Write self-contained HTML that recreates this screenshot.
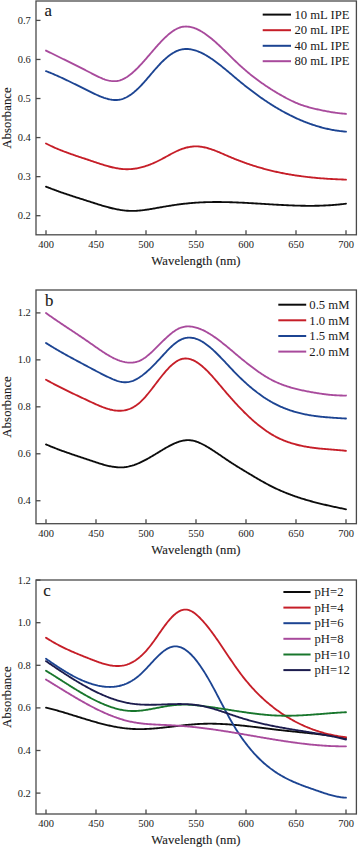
<!DOCTYPE html>
<html><head><meta charset="utf-8"><style>
html,body{margin:0;padding:0;background:#fff;}
svg{display:block;}
text{font-family:"Liberation Serif",serif;fill:#1a1a1a;stroke:#1a1a1a;stroke-width:0.12px;}
.tl{font-size:10.5px;stroke-width:0;}
.ax{font-size:12.6px;letter-spacing:0.12px;}
.lg{font-size:12.7px;stroke-width:0;}
.pl{font-size:16.8px;}
</style></head><body>
<svg width="358" height="848" viewBox="0 0 358 848">
<rect width="358" height="848" fill="#fff"/>
<path d="M46.0 186.62 L47.0 187.02 L48.0 187.42 L49.0 187.82 L50.0 188.21 L51.0 188.60 L52.0 188.99 L53.0 189.37 L54.0 189.74 L55.0 190.12 L56.0 190.48 L57.0 190.85 L58.0 191.21 L59.0 191.57 L60.0 191.92 L61.0 192.27 L62.0 192.62 L63.0 192.97 L64.0 193.31 L65.0 193.65 L66.0 193.99 L67.0 194.33 L68.0 194.66 L69.0 194.99 L70.0 195.32 L71.0 195.65 L72.0 195.98 L73.0 196.30 L74.0 196.62 L75.0 196.95 L76.0 197.27 L77.0 197.59 L78.0 197.91 L79.0 198.22 L80.0 198.54 L81.0 198.86 L82.0 199.18 L83.0 199.49 L84.0 199.81 L85.0 200.13 L86.0 200.45 L87.0 200.76 L88.0 201.08 L89.0 201.40 L90.0 201.72 L91.0 202.04 L92.0 202.36 L93.0 202.68 L94.0 203.00 L95.0 203.32 L96.0 203.64 L97.0 203.96 L98.0 204.27 L99.0 204.59 L100.0 204.90 L101.0 205.20 L102.0 205.51 L103.0 205.80 L104.0 206.10 L105.0 206.39 L106.0 206.67 L107.0 206.95 L108.0 207.23 L109.0 207.49 L110.0 207.75 L111.0 208.00 L112.0 208.25 L113.0 208.49 L114.0 208.71 L115.0 208.93 L116.0 209.14 L117.0 209.34 L118.0 209.53 L119.0 209.71 L120.0 209.88 L121.0 210.04 L122.0 210.19 L123.0 210.32 L124.0 210.44 L125.0 210.55 L126.0 210.65 L127.0 210.73 L128.0 210.79 L129.0 210.85 L130.0 210.88 L131.0 210.91 L132.0 210.91 L133.0 210.91 L134.0 210.89 L135.0 210.85 L136.0 210.81 L137.0 210.75 L138.0 210.68 L139.0 210.60 L140.0 210.51 L141.0 210.41 L142.0 210.30 L143.0 210.18 L144.0 210.05 L145.0 209.92 L146.0 209.78 L147.0 209.63 L148.0 209.48 L149.0 209.32 L150.0 209.16 L151.0 208.99 L152.0 208.82 L153.0 208.65 L154.0 208.47 L155.0 208.30 L156.0 208.12 L157.0 207.94 L158.0 207.76 L159.0 207.58 L160.0 207.40 L161.0 207.23 L162.0 207.05 L163.0 206.88 L164.0 206.71 L165.0 206.54 L166.0 206.37 L167.0 206.20 L168.0 206.04 L169.0 205.88 L170.0 205.72 L171.0 205.56 L172.0 205.41 L173.0 205.26 L174.0 205.11 L175.0 204.96 L176.0 204.82 L177.0 204.68 L178.0 204.54 L179.0 204.41 L180.0 204.28 L181.0 204.15 L182.0 204.03 L183.0 203.91 L184.0 203.79 L185.0 203.68 L186.0 203.57 L187.0 203.46 L188.0 203.36 L189.0 203.26 L190.0 203.17 L191.0 203.08 L192.0 202.99 L193.0 202.91 L194.0 202.83 L195.0 202.76 L196.0 202.69 L197.0 202.62 L198.0 202.56 L199.0 202.50 L200.0 202.45 L201.0 202.39 L202.0 202.35 L203.0 202.30 L204.0 202.26 L205.0 202.22 L206.0 202.19 L207.0 202.16 L208.0 202.13 L209.0 202.11 L210.0 202.09 L211.0 202.07 L212.0 202.05 L213.0 202.04 L214.0 202.03 L215.0 202.02 L216.0 202.02 L217.0 202.02 L218.0 202.02 L219.0 202.02 L220.0 202.03 L221.0 202.04 L222.0 202.05 L223.0 202.06 L224.0 202.08 L225.0 202.10 L226.0 202.12 L227.0 202.14 L228.0 202.16 L229.0 202.19 L230.0 202.22 L231.0 202.25 L232.0 202.28 L233.0 202.31 L234.0 202.35 L235.0 202.39 L236.0 202.43 L237.0 202.47 L238.0 202.51 L239.0 202.55 L240.0 202.60 L241.0 202.64 L242.0 202.69 L243.0 202.74 L244.0 202.79 L245.0 202.84 L246.0 202.89 L247.0 202.95 L248.0 203.00 L249.0 203.06 L250.0 203.11 L251.0 203.17 L252.0 203.22 L253.0 203.28 L254.0 203.34 L255.0 203.40 L256.0 203.46 L257.0 203.52 L258.0 203.58 L259.0 203.64 L260.0 203.70 L261.0 203.76 L262.0 203.82 L263.0 203.88 L264.0 203.95 L265.0 204.01 L266.0 204.07 L267.0 204.13 L268.0 204.19 L269.0 204.25 L270.0 204.31 L271.0 204.37 L272.0 204.43 L273.0 204.49 L274.0 204.55 L275.0 204.61 L276.0 204.66 L277.0 204.72 L278.0 204.78 L279.0 204.83 L280.0 204.89 L281.0 204.94 L282.0 204.99 L283.0 205.04 L284.0 205.09 L285.0 205.14 L286.0 205.19 L287.0 205.23 L288.0 205.28 L289.0 205.32 L290.0 205.37 L291.0 205.41 L292.0 205.45 L293.0 205.48 L294.0 205.52 L295.0 205.55 L296.0 205.59 L297.0 205.62 L298.0 205.65 L299.0 205.67 L300.0 205.70 L301.0 205.72 L302.0 205.74 L303.0 205.76 L304.0 205.78 L305.0 205.79 L306.0 205.80 L307.0 205.81 L308.0 205.82 L309.0 205.82 L310.0 205.82 L311.0 205.82 L312.0 205.82 L313.0 205.81 L314.0 205.80 L315.0 205.79 L316.0 205.77 L317.0 205.76 L318.0 205.74 L319.0 205.71 L320.0 205.68 L321.0 205.65 L322.0 205.62 L323.0 205.58 L324.0 205.54 L325.0 205.50 L326.0 205.45 L327.0 205.40 L328.0 205.35 L329.0 205.29 L330.0 205.23 L331.0 205.16 L332.0 205.09 L333.0 205.02 L334.0 204.94 L335.0 204.86 L336.0 204.78 L337.0 204.69 L338.0 204.59 L339.0 204.50 L340.0 204.39 L341.0 204.29 L342.0 204.18 L343.0 204.06 L344.0 203.94 L345.0 203.82 L346.0 203.69" stroke="#0c0c0c" stroke-width="1.85" fill="none" stroke-linejoin="round" stroke-linecap="round"/>
<path d="M46.0 143.46 L47.0 143.98 L48.0 144.49 L49.0 144.99 L50.0 145.48 L51.0 145.96 L52.0 146.43 L53.0 146.89 L54.0 147.35 L55.0 147.79 L56.0 148.23 L57.0 148.66 L58.0 149.09 L59.0 149.50 L60.0 149.91 L61.0 150.31 L62.0 150.71 L63.0 151.10 L64.0 151.49 L65.0 151.87 L66.0 152.24 L67.0 152.61 L68.0 152.97 L69.0 153.33 L70.0 153.69 L71.0 154.04 L72.0 154.39 L73.0 154.74 L74.0 155.08 L75.0 155.42 L76.0 155.76 L77.0 156.10 L78.0 156.43 L79.0 156.77 L80.0 157.10 L81.0 157.43 L82.0 157.76 L83.0 158.09 L84.0 158.42 L85.0 158.75 L86.0 159.08 L87.0 159.42 L88.0 159.75 L89.0 160.08 L90.0 160.42 L91.0 160.76 L92.0 161.09 L93.0 161.43 L94.0 161.77 L95.0 162.11 L96.0 162.45 L97.0 162.79 L98.0 163.12 L99.0 163.45 L100.0 163.78 L101.0 164.11 L102.0 164.43 L103.0 164.74 L104.0 165.05 L105.0 165.35 L106.0 165.65 L107.0 165.94 L108.0 166.22 L109.0 166.49 L110.0 166.75 L111.0 167.00 L112.0 167.25 L113.0 167.48 L114.0 167.70 L115.0 167.91 L116.0 168.10 L117.0 168.28 L118.0 168.45 L119.0 168.60 L120.0 168.74 L121.0 168.86 L122.0 168.97 L123.0 169.06 L124.0 169.13 L125.0 169.18 L126.0 169.22 L127.0 169.23 L128.0 169.23 L129.0 169.20 L130.0 169.16 L131.0 169.10 L132.0 169.01 L133.0 168.91 L134.0 168.79 L135.0 168.65 L136.0 168.49 L137.0 168.32 L138.0 168.13 L139.0 167.92 L140.0 167.69 L141.0 167.45 L142.0 167.19 L143.0 166.91 L144.0 166.62 L145.0 166.31 L146.0 165.99 L147.0 165.65 L148.0 165.30 L149.0 164.93 L150.0 164.55 L151.0 164.15 L152.0 163.74 L153.0 163.32 L154.0 162.88 L155.0 162.44 L156.0 161.97 L157.0 161.50 L158.0 161.02 L159.0 160.52 L160.0 160.01 L161.0 159.49 L162.0 158.96 L163.0 158.43 L164.0 157.88 L165.0 157.34 L166.0 156.79 L167.0 156.24 L168.0 155.69 L169.0 155.14 L170.0 154.60 L171.0 154.06 L172.0 153.53 L173.0 153.00 L174.0 152.49 L175.0 151.99 L176.0 151.50 L177.0 151.03 L178.0 150.58 L179.0 150.15 L180.0 149.73 L181.0 149.34 L182.0 148.97 L183.0 148.62 L184.0 148.30 L185.0 148.00 L186.0 147.73 L187.0 147.48 L188.0 147.25 L189.0 147.05 L190.0 146.88 L191.0 146.73 L192.0 146.60 L193.0 146.51 L194.0 146.44 L195.0 146.40 L196.0 146.39 L197.0 146.40 L198.0 146.45 L199.0 146.52 L200.0 146.62 L201.0 146.74 L202.0 146.89 L203.0 147.06 L204.0 147.26 L205.0 147.47 L206.0 147.71 L207.0 147.97 L208.0 148.25 L209.0 148.54 L210.0 148.85 L211.0 149.17 L212.0 149.51 L213.0 149.87 L214.0 150.23 L215.0 150.61 L216.0 151.00 L217.0 151.40 L218.0 151.80 L219.0 152.22 L220.0 152.64 L221.0 153.06 L222.0 153.49 L223.0 153.92 L224.0 154.36 L225.0 154.79 L226.0 155.23 L227.0 155.67 L228.0 156.10 L229.0 156.53 L230.0 156.96 L231.0 157.39 L232.0 157.80 L233.0 158.22 L234.0 158.63 L235.0 159.03 L236.0 159.43 L237.0 159.83 L238.0 160.22 L239.0 160.60 L240.0 160.98 L241.0 161.36 L242.0 161.73 L243.0 162.10 L244.0 162.46 L245.0 162.82 L246.0 163.18 L247.0 163.53 L248.0 163.87 L249.0 164.21 L250.0 164.55 L251.0 164.88 L252.0 165.20 L253.0 165.53 L254.0 165.85 L255.0 166.16 L256.0 166.47 L257.0 166.77 L258.0 167.07 L259.0 167.37 L260.0 167.66 L261.0 167.95 L262.0 168.23 L263.0 168.51 L264.0 168.79 L265.0 169.06 L266.0 169.32 L267.0 169.59 L268.0 169.84 L269.0 170.10 L270.0 170.35 L271.0 170.59 L272.0 170.83 L273.0 171.07 L274.0 171.30 L275.0 171.53 L276.0 171.76 L277.0 171.98 L278.0 172.19 L279.0 172.41 L280.0 172.62 L281.0 172.82 L282.0 173.02 L283.0 173.22 L284.0 173.42 L285.0 173.61 L286.0 173.79 L287.0 173.98 L288.0 174.16 L289.0 174.33 L290.0 174.50 L291.0 174.67 L292.0 174.84 L293.0 175.00 L294.0 175.16 L295.0 175.31 L296.0 175.47 L297.0 175.62 L298.0 175.76 L299.0 175.90 L300.0 176.04 L301.0 176.18 L302.0 176.31 L303.0 176.44 L304.0 176.57 L305.0 176.69 L306.0 176.81 L307.0 176.93 L308.0 177.05 L309.0 177.16 L310.0 177.27 L311.0 177.38 L312.0 177.48 L313.0 177.58 L314.0 177.68 L315.0 177.78 L316.0 177.87 L317.0 177.96 L318.0 178.05 L319.0 178.13 L320.0 178.22 L321.0 178.30 L322.0 178.38 L323.0 178.45 L324.0 178.53 L325.0 178.60 L326.0 178.67 L327.0 178.73 L328.0 178.80 L329.0 178.86 L330.0 178.92 L331.0 178.98 L332.0 179.03 L333.0 179.09 L334.0 179.14 L335.0 179.19 L336.0 179.24 L337.0 179.29 L338.0 179.33 L339.0 179.37 L340.0 179.41 L341.0 179.45 L342.0 179.49 L343.0 179.53 L344.0 179.56 L345.0 179.59 L346.0 179.62" stroke="#c61e28" stroke-width="1.85" fill="none" stroke-linejoin="round" stroke-linecap="round"/>
<path d="M46.0 71.11 L47.0 71.50 L48.0 71.89 L49.0 72.29 L50.0 72.69 L51.0 73.10 L52.0 73.52 L53.0 73.94 L54.0 74.37 L55.0 74.80 L56.0 75.24 L57.0 75.68 L58.0 76.12 L59.0 76.57 L60.0 77.03 L61.0 77.48 L62.0 77.94 L63.0 78.41 L64.0 78.88 L65.0 79.35 L66.0 79.82 L67.0 80.30 L68.0 80.78 L69.0 81.26 L70.0 81.75 L71.0 82.24 L72.0 82.72 L73.0 83.22 L74.0 83.71 L75.0 84.20 L76.0 84.70 L77.0 85.19 L78.0 85.69 L79.0 86.19 L80.0 86.68 L81.0 87.18 L82.0 87.68 L83.0 88.18 L84.0 88.68 L85.0 89.18 L86.0 89.67 L87.0 90.17 L88.0 90.67 L89.0 91.16 L90.0 91.65 L91.0 92.14 L92.0 92.63 L93.0 93.12 L94.0 93.60 L95.0 94.07 L96.0 94.53 L97.0 94.99 L98.0 95.43 L99.0 95.86 L100.0 96.28 L101.0 96.69 L102.0 97.07 L103.0 97.44 L104.0 97.80 L105.0 98.13 L106.0 98.44 L107.0 98.72 L108.0 98.99 L109.0 99.23 L110.0 99.44 L111.0 99.62 L112.0 99.77 L113.0 99.89 L114.0 99.97 L115.0 100.02 L116.0 100.03 L117.0 99.99 L118.0 99.91 L119.0 99.78 L120.0 99.60 L121.0 99.37 L122.0 99.09 L123.0 98.76 L124.0 98.38 L125.0 97.96 L126.0 97.48 L127.0 96.96 L128.0 96.40 L129.0 95.80 L130.0 95.15 L131.0 94.46 L132.0 93.73 L133.0 92.96 L134.0 92.16 L135.0 91.31 L136.0 90.44 L137.0 89.53 L138.0 88.58 L139.0 87.61 L140.0 86.60 L141.0 85.56 L142.0 84.50 L143.0 83.41 L144.0 82.30 L145.0 81.18 L146.0 80.04 L147.0 78.88 L148.0 77.72 L149.0 76.54 L150.0 75.37 L151.0 74.19 L152.0 73.01 L153.0 71.84 L154.0 70.68 L155.0 69.52 L156.0 68.38 L157.0 67.26 L158.0 66.15 L159.0 65.06 L160.0 64.00 L161.0 62.96 L162.0 61.95 L163.0 60.98 L164.0 60.03 L165.0 59.11 L166.0 58.23 L167.0 57.38 L168.0 56.56 L169.0 55.78 L170.0 55.03 L171.0 54.33 L172.0 53.66 L173.0 53.04 L174.0 52.45 L175.0 51.91 L176.0 51.41 L177.0 50.95 L178.0 50.54 L179.0 50.18 L180.0 49.87 L181.0 49.60 L182.0 49.38 L183.0 49.21 L184.0 49.08 L185.0 49.00 L186.0 48.96 L187.0 48.96 L188.0 49.01 L189.0 49.09 L190.0 49.21 L191.0 49.36 L192.0 49.55 L193.0 49.78 L194.0 50.04 L195.0 50.33 L196.0 50.65 L197.0 51.00 L198.0 51.38 L199.0 51.79 L200.0 52.22 L201.0 52.68 L202.0 53.16 L203.0 53.66 L204.0 54.19 L205.0 54.73 L206.0 55.30 L207.0 55.89 L208.0 56.50 L209.0 57.12 L210.0 57.77 L211.0 58.43 L212.0 59.10 L213.0 59.80 L214.0 60.50 L215.0 61.22 L216.0 61.96 L217.0 62.70 L218.0 63.46 L219.0 64.23 L220.0 65.01 L221.0 65.80 L222.0 66.60 L223.0 67.41 L224.0 68.22 L225.0 69.04 L226.0 69.87 L227.0 70.70 L228.0 71.53 L229.0 72.37 L230.0 73.21 L231.0 74.05 L232.0 74.90 L233.0 75.74 L234.0 76.59 L235.0 77.43 L236.0 78.27 L237.0 79.11 L238.0 79.95 L239.0 80.78 L240.0 81.61 L241.0 82.43 L242.0 83.25 L243.0 84.06 L244.0 84.87 L245.0 85.67 L246.0 86.46 L247.0 87.25 L248.0 88.03 L249.0 88.81 L250.0 89.58 L251.0 90.35 L252.0 91.11 L253.0 91.86 L254.0 92.61 L255.0 93.35 L256.0 94.08 L257.0 94.81 L258.0 95.54 L259.0 96.25 L260.0 96.97 L261.0 97.67 L262.0 98.37 L263.0 99.06 L264.0 99.75 L265.0 100.42 L266.0 101.10 L267.0 101.76 L268.0 102.42 L269.0 103.08 L270.0 103.72 L271.0 104.36 L272.0 104.99 L273.0 105.62 L274.0 106.24 L275.0 106.85 L276.0 107.46 L277.0 108.06 L278.0 108.65 L279.0 109.23 L280.0 109.81 L281.0 110.38 L282.0 110.95 L283.0 111.50 L284.0 112.05 L285.0 112.60 L286.0 113.13 L287.0 113.66 L288.0 114.18 L289.0 114.69 L290.0 115.20 L291.0 115.70 L292.0 116.19 L293.0 116.68 L294.0 117.16 L295.0 117.63 L296.0 118.09 L297.0 118.55 L298.0 119.00 L299.0 119.44 L300.0 119.87 L301.0 120.30 L302.0 120.72 L303.0 121.13 L304.0 121.53 L305.0 121.93 L306.0 122.32 L307.0 122.70 L308.0 123.08 L309.0 123.44 L310.0 123.80 L311.0 124.16 L312.0 124.50 L313.0 124.84 L314.0 125.17 L315.0 125.49 L316.0 125.81 L317.0 126.11 L318.0 126.41 L319.0 126.70 L320.0 126.99 L321.0 127.26 L322.0 127.53 L323.0 127.80 L324.0 128.05 L325.0 128.29 L326.0 128.53 L327.0 128.76 L328.0 128.99 L329.0 129.20 L330.0 129.41 L331.0 129.61 L332.0 129.80 L333.0 129.98 L334.0 130.16 L335.0 130.32 L336.0 130.48 L337.0 130.64 L338.0 130.78 L339.0 130.92 L340.0 131.05 L341.0 131.17 L342.0 131.28 L343.0 131.38 L344.0 131.48 L345.0 131.57 L346.0 131.65" stroke="#1c4492" stroke-width="1.85" fill="none" stroke-linejoin="round" stroke-linecap="round"/>
<path d="M46.0 50.55 L47.0 51.05 L48.0 51.55 L49.0 52.05 L50.0 52.55 L51.0 53.04 L52.0 53.54 L53.0 54.03 L54.0 54.53 L55.0 55.02 L56.0 55.51 L57.0 56.01 L58.0 56.50 L59.0 56.99 L60.0 57.48 L61.0 57.97 L62.0 58.47 L63.0 58.96 L64.0 59.45 L65.0 59.94 L66.0 60.43 L67.0 60.92 L68.0 61.42 L69.0 61.91 L70.0 62.40 L71.0 62.90 L72.0 63.39 L73.0 63.89 L74.0 64.39 L75.0 64.88 L76.0 65.38 L77.0 65.88 L78.0 66.38 L79.0 66.89 L80.0 67.39 L81.0 67.90 L82.0 68.40 L83.0 68.91 L84.0 69.42 L85.0 69.93 L86.0 70.45 L87.0 70.96 L88.0 71.48 L89.0 72.00 L90.0 72.52 L91.0 73.04 L92.0 73.57 L93.0 74.09 L94.0 74.61 L95.0 75.12 L96.0 75.63 L97.0 76.12 L98.0 76.61 L99.0 77.08 L100.0 77.53 L101.0 77.97 L102.0 78.39 L103.0 78.79 L104.0 79.16 L105.0 79.51 L106.0 79.83 L107.0 80.12 L108.0 80.38 L109.0 80.60 L110.0 80.79 L111.0 80.95 L112.0 81.06 L113.0 81.14 L114.0 81.17 L115.0 81.15 L116.0 81.09 L117.0 80.98 L118.0 80.81 L119.0 80.60 L120.0 80.33 L121.0 80.00 L122.0 79.62 L123.0 79.18 L124.0 78.69 L125.0 78.16 L126.0 77.57 L127.0 76.94 L128.0 76.27 L129.0 75.55 L130.0 74.80 L131.0 74.00 L132.0 73.17 L133.0 72.31 L134.0 71.41 L135.0 70.48 L136.0 69.52 L137.0 68.54 L138.0 67.53 L139.0 66.50 L140.0 65.44 L141.0 64.37 L142.0 63.28 L143.0 62.17 L144.0 61.05 L145.0 59.92 L146.0 58.78 L147.0 57.63 L148.0 56.47 L149.0 55.31 L150.0 54.15 L151.0 52.98 L152.0 51.82 L153.0 50.66 L154.0 49.50 L155.0 48.36 L156.0 47.22 L157.0 46.09 L158.0 44.97 L159.0 43.87 L160.0 42.79 L161.0 41.72 L162.0 40.67 L163.0 39.65 L164.0 38.65 L165.0 37.67 L166.0 36.72 L167.0 35.81 L168.0 34.92 L169.0 34.07 L170.0 33.25 L171.0 32.48 L172.0 31.74 L173.0 31.04 L174.0 30.39 L175.0 29.78 L176.0 29.22 L177.0 28.71 L178.0 28.25 L179.0 27.84 L180.0 27.49 L181.0 27.20 L182.0 26.96 L183.0 26.78 L184.0 26.64 L185.0 26.57 L186.0 26.54 L187.0 26.56 L188.0 26.62 L189.0 26.74 L190.0 26.90 L191.0 27.10 L192.0 27.35 L193.0 27.63 L194.0 27.96 L195.0 28.32 L196.0 28.72 L197.0 29.15 L198.0 29.62 L199.0 30.12 L200.0 30.66 L201.0 31.22 L202.0 31.81 L203.0 32.43 L204.0 33.08 L205.0 33.75 L206.0 34.44 L207.0 35.16 L208.0 35.91 L209.0 36.67 L210.0 37.46 L211.0 38.26 L212.0 39.08 L213.0 39.93 L214.0 40.78 L215.0 41.66 L216.0 42.54 L217.0 43.44 L218.0 44.35 L219.0 45.28 L220.0 46.21 L221.0 47.16 L222.0 48.11 L223.0 49.07 L224.0 50.03 L225.0 51.00 L226.0 51.98 L227.0 52.95 L228.0 53.93 L229.0 54.91 L230.0 55.89 L231.0 56.87 L232.0 57.85 L233.0 58.82 L234.0 59.79 L235.0 60.76 L236.0 61.72 L237.0 62.67 L238.0 63.61 L239.0 64.55 L240.0 65.47 L241.0 66.38 L242.0 67.28 L243.0 68.17 L244.0 69.05 L245.0 69.92 L246.0 70.78 L247.0 71.62 L248.0 72.46 L249.0 73.29 L250.0 74.10 L251.0 74.91 L252.0 75.71 L253.0 76.49 L254.0 77.27 L255.0 78.04 L256.0 78.80 L257.0 79.55 L258.0 80.29 L259.0 81.02 L260.0 81.74 L261.0 82.46 L262.0 83.16 L263.0 83.86 L264.0 84.55 L265.0 85.23 L266.0 85.91 L267.0 86.57 L268.0 87.23 L269.0 87.88 L270.0 88.53 L271.0 89.17 L272.0 89.80 L273.0 90.42 L274.0 91.03 L275.0 91.64 L276.0 92.25 L277.0 92.84 L278.0 93.43 L279.0 94.02 L280.0 94.60 L281.0 95.17 L282.0 95.74 L283.0 96.30 L284.0 96.85 L285.0 97.40 L286.0 97.94 L287.0 98.47 L288.0 98.99 L289.0 99.50 L290.0 100.00 L291.0 100.49 L292.0 100.97 L293.0 101.45 L294.0 101.91 L295.0 102.35 L296.0 102.79 L297.0 103.21 L298.0 103.62 L299.0 104.02 L300.0 104.40 L301.0 104.77 L302.0 105.13 L303.0 105.47 L304.0 105.80 L305.0 106.12 L306.0 106.43 L307.0 106.72 L308.0 107.01 L309.0 107.29 L310.0 107.56 L311.0 107.82 L312.0 108.07 L313.0 108.32 L314.0 108.56 L315.0 108.80 L316.0 109.03 L317.0 109.25 L318.0 109.48 L319.0 109.70 L320.0 109.92 L321.0 110.13 L322.0 110.34 L323.0 110.55 L324.0 110.75 L325.0 110.95 L326.0 111.15 L327.0 111.34 L328.0 111.52 L329.0 111.70 L330.0 111.88 L331.0 112.05 L332.0 112.22 L333.0 112.38 L334.0 112.53 L335.0 112.68 L336.0 112.82 L337.0 112.95 L338.0 113.08 L339.0 113.20 L340.0 113.32 L341.0 113.42 L342.0 113.52 L343.0 113.61 L344.0 113.70 L345.0 113.77 L346.0 113.84" stroke="#a84a9c" stroke-width="1.85" fill="none" stroke-linejoin="round" stroke-linecap="round"/>
<rect x="36" y="1.00" width="320.4" height="233.80" fill="none" stroke="#4a4a4a" stroke-width="1.3"/>
<line x1="36" y1="20.40" x2="40.5" y2="20.40" stroke="#4a4a4a" stroke-width="1.3"/>
<text x="30.8" y="23.90" class="tl" text-anchor="end">0.7</text>
<line x1="36" y1="59.46" x2="40.5" y2="59.46" stroke="#4a4a4a" stroke-width="1.3"/>
<text x="30.8" y="62.96" class="tl" text-anchor="end">0.6</text>
<line x1="36" y1="98.52" x2="40.5" y2="98.52" stroke="#4a4a4a" stroke-width="1.3"/>
<text x="30.8" y="102.02" class="tl" text-anchor="end">0.5</text>
<line x1="36" y1="137.58" x2="40.5" y2="137.58" stroke="#4a4a4a" stroke-width="1.3"/>
<text x="30.8" y="141.08" class="tl" text-anchor="end">0.4</text>
<line x1="36" y1="176.64" x2="40.5" y2="176.64" stroke="#4a4a4a" stroke-width="1.3"/>
<text x="30.8" y="180.14" class="tl" text-anchor="end">0.3</text>
<line x1="36" y1="215.70" x2="40.5" y2="215.70" stroke="#4a4a4a" stroke-width="1.3"/>
<text x="30.8" y="219.20" class="tl" text-anchor="end">0.2</text>
<line x1="46.00" y1="234.80" x2="46.00" y2="230.30" stroke="#4a4a4a" stroke-width="1.3"/>
<text x="46.00" y="248.10" class="tl" text-anchor="middle">400</text>
<line x1="96.00" y1="234.80" x2="96.00" y2="230.30" stroke="#4a4a4a" stroke-width="1.3"/>
<text x="96.00" y="248.10" class="tl" text-anchor="middle">450</text>
<line x1="146.00" y1="234.80" x2="146.00" y2="230.30" stroke="#4a4a4a" stroke-width="1.3"/>
<text x="146.00" y="248.10" class="tl" text-anchor="middle">500</text>
<line x1="196.00" y1="234.80" x2="196.00" y2="230.30" stroke="#4a4a4a" stroke-width="1.3"/>
<text x="196.00" y="248.10" class="tl" text-anchor="middle">550</text>
<line x1="246.00" y1="234.80" x2="246.00" y2="230.30" stroke="#4a4a4a" stroke-width="1.3"/>
<text x="246.00" y="248.10" class="tl" text-anchor="middle">600</text>
<line x1="296.00" y1="234.80" x2="296.00" y2="230.30" stroke="#4a4a4a" stroke-width="1.3"/>
<text x="296.00" y="248.10" class="tl" text-anchor="middle">650</text>
<line x1="346.00" y1="234.80" x2="346.00" y2="230.30" stroke="#4a4a4a" stroke-width="1.3"/>
<text x="346.00" y="248.10" class="tl" text-anchor="middle">700</text>
<text x="196" y="265.00" class="ax" text-anchor="middle">Wavelength (nm)</text>
<text transform="translate(11.2 117.90) rotate(-90)" class="ax" text-anchor="middle">Absorbance</text>
<text x="44.6" y="15.70" class="pl">a</text>
<line x1="262.70" y1="14.60" x2="291.00" y2="14.60" stroke="#0c0c0c" stroke-width="2.0"/>
<text x="294.40" y="18.80" class="lg">10 mL IPE</text>
<line x1="262.70" y1="30.20" x2="291.00" y2="30.20" stroke="#c61e28" stroke-width="2.0"/>
<text x="294.40" y="34.40" class="lg">20 mL IPE</text>
<line x1="262.70" y1="45.80" x2="291.00" y2="45.80" stroke="#1c4492" stroke-width="2.0"/>
<text x="294.40" y="50.00" class="lg">40 mL IPE</text>
<line x1="262.70" y1="61.20" x2="291.00" y2="61.20" stroke="#a84a9c" stroke-width="2.0"/>
<text x="294.40" y="65.40" class="lg">80 mL IPE</text>
<path d="M46.0 444.41 L47.0 444.84 L48.0 445.27 L49.0 445.70 L50.0 446.11 L51.0 446.52 L52.0 446.93 L53.0 447.33 L54.0 447.73 L55.0 448.12 L56.0 448.51 L57.0 448.90 L58.0 449.28 L59.0 449.65 L60.0 450.03 L61.0 450.39 L62.0 450.76 L63.0 451.12 L64.0 451.48 L65.0 451.84 L66.0 452.19 L67.0 452.54 L68.0 452.89 L69.0 453.24 L70.0 453.58 L71.0 453.92 L72.0 454.26 L73.0 454.60 L74.0 454.94 L75.0 455.28 L76.0 455.61 L77.0 455.95 L78.0 456.28 L79.0 456.61 L80.0 456.95 L81.0 457.28 L82.0 457.61 L83.0 457.94 L84.0 458.28 L85.0 458.61 L86.0 458.94 L87.0 459.28 L88.0 459.61 L89.0 459.95 L90.0 460.28 L91.0 460.62 L92.0 460.96 L93.0 461.30 L94.0 461.64 L95.0 461.98 L96.0 462.31 L97.0 462.64 L98.0 462.97 L99.0 463.29 L100.0 463.60 L101.0 463.91 L102.0 464.21 L103.0 464.50 L104.0 464.78 L105.0 465.05 L106.0 465.32 L107.0 465.57 L108.0 465.80 L109.0 466.03 L110.0 466.24 L111.0 466.43 L112.0 466.61 L113.0 466.77 L114.0 466.92 L115.0 467.04 L116.0 467.15 L117.0 467.24 L118.0 467.31 L119.0 467.35 L120.0 467.38 L121.0 467.38 L122.0 467.35 L123.0 467.30 L124.0 467.23 L125.0 467.13 L126.0 467.00 L127.0 466.84 L128.0 466.66 L129.0 466.45 L130.0 466.21 L131.0 465.95 L132.0 465.67 L133.0 465.36 L134.0 465.03 L135.0 464.67 L136.0 464.30 L137.0 463.91 L138.0 463.49 L139.0 463.06 L140.0 462.61 L141.0 462.15 L142.0 461.67 L143.0 461.18 L144.0 460.67 L145.0 460.15 L146.0 459.62 L147.0 459.07 L148.0 458.52 L149.0 457.95 L150.0 457.38 L151.0 456.80 L152.0 456.22 L153.0 455.63 L154.0 455.03 L155.0 454.43 L156.0 453.82 L157.0 453.22 L158.0 452.61 L159.0 452.00 L160.0 451.39 L161.0 450.79 L162.0 450.18 L163.0 449.58 L164.0 448.99 L165.0 448.40 L166.0 447.82 L167.0 447.25 L168.0 446.69 L169.0 446.15 L170.0 445.62 L171.0 445.10 L172.0 444.61 L173.0 444.13 L174.0 443.67 L175.0 443.23 L176.0 442.82 L177.0 442.43 L178.0 442.06 L179.0 441.73 L180.0 441.42 L181.0 441.14 L182.0 440.90 L183.0 440.68 L184.0 440.51 L185.0 440.36 L186.0 440.26 L187.0 440.20 L188.0 440.17 L189.0 440.19 L190.0 440.25 L191.0 440.36 L192.0 440.50 L193.0 440.69 L194.0 440.92 L195.0 441.19 L196.0 441.49 L197.0 441.83 L198.0 442.20 L199.0 442.60 L200.0 443.03 L201.0 443.49 L202.0 443.97 L203.0 444.47 L204.0 445.00 L205.0 445.55 L206.0 446.11 L207.0 446.69 L208.0 447.29 L209.0 447.90 L210.0 448.52 L211.0 449.15 L212.0 449.79 L213.0 450.44 L214.0 451.09 L215.0 451.75 L216.0 452.41 L217.0 453.08 L218.0 453.76 L219.0 454.43 L220.0 455.11 L221.0 455.79 L222.0 456.48 L223.0 457.16 L224.0 457.84 L225.0 458.52 L226.0 459.20 L227.0 459.87 L228.0 460.54 L229.0 461.21 L230.0 461.87 L231.0 462.52 L232.0 463.17 L233.0 463.82 L234.0 464.45 L235.0 465.09 L236.0 465.72 L237.0 466.34 L238.0 466.96 L239.0 467.58 L240.0 468.19 L241.0 468.80 L242.0 469.41 L243.0 470.02 L244.0 470.62 L245.0 471.22 L246.0 471.82 L247.0 472.42 L248.0 473.02 L249.0 473.61 L250.0 474.21 L251.0 474.81 L252.0 475.40 L253.0 476.00 L254.0 476.59 L255.0 477.19 L256.0 477.78 L257.0 478.36 L258.0 478.95 L259.0 479.53 L260.0 480.11 L261.0 480.68 L262.0 481.25 L263.0 481.82 L264.0 482.38 L265.0 482.93 L266.0 483.48 L267.0 484.02 L268.0 484.56 L269.0 485.08 L270.0 485.60 L271.0 486.12 L272.0 486.62 L273.0 487.12 L274.0 487.61 L275.0 488.09 L276.0 488.56 L277.0 489.03 L278.0 489.49 L279.0 489.94 L280.0 490.38 L281.0 490.82 L282.0 491.25 L283.0 491.68 L284.0 492.09 L285.0 492.51 L286.0 492.91 L287.0 493.31 L288.0 493.70 L289.0 494.09 L290.0 494.47 L291.0 494.84 L292.0 495.21 L293.0 495.57 L294.0 495.93 L295.0 496.28 L296.0 496.63 L297.0 496.97 L298.0 497.30 L299.0 497.63 L300.0 497.96 L301.0 498.28 L302.0 498.59 L303.0 498.90 L304.0 499.21 L305.0 499.51 L306.0 499.81 L307.0 500.10 L308.0 500.39 L309.0 500.68 L310.0 500.96 L311.0 501.24 L312.0 501.51 L313.0 501.78 L314.0 502.04 L315.0 502.31 L316.0 502.57 L317.0 502.82 L318.0 503.08 L319.0 503.32 L320.0 503.57 L321.0 503.82 L322.0 504.06 L323.0 504.30 L324.0 504.53 L325.0 504.77 L326.0 505.00 L327.0 505.23 L328.0 505.45 L329.0 505.68 L330.0 505.90 L331.0 506.12 L332.0 506.34 L333.0 506.56 L334.0 506.78 L335.0 506.99 L336.0 507.20 L337.0 507.42 L338.0 507.63 L339.0 507.84 L340.0 508.05 L341.0 508.26 L342.0 508.46 L343.0 508.67 L344.0 508.88 L345.0 509.08 L346.0 509.29" stroke="#0c0c0c" stroke-width="1.85" fill="none" stroke-linejoin="round" stroke-linecap="round"/>
<path d="M46.0 379.72 L47.0 380.28 L48.0 380.83 L49.0 381.38 L50.0 381.93 L51.0 382.47 L52.0 383.01 L53.0 383.54 L54.0 384.08 L55.0 384.60 L56.0 385.12 L57.0 385.64 L58.0 386.16 L59.0 386.67 L60.0 387.18 L61.0 387.69 L62.0 388.19 L63.0 388.69 L64.0 389.19 L65.0 389.68 L66.0 390.17 L67.0 390.66 L68.0 391.15 L69.0 391.64 L70.0 392.12 L71.0 392.60 L72.0 393.08 L73.0 393.56 L74.0 394.03 L75.0 394.51 L76.0 394.98 L77.0 395.45 L78.0 395.93 L79.0 396.40 L80.0 396.87 L81.0 397.33 L82.0 397.80 L83.0 398.27 L84.0 398.74 L85.0 399.20 L86.0 399.67 L87.0 400.14 L88.0 400.60 L89.0 401.07 L90.0 401.54 L91.0 402.01 L92.0 402.47 L93.0 402.94 L94.0 403.40 L95.0 403.86 L96.0 404.31 L97.0 404.76 L98.0 405.20 L99.0 405.63 L100.0 406.05 L101.0 406.46 L102.0 406.86 L103.0 407.25 L104.0 407.62 L105.0 407.98 L106.0 408.32 L107.0 408.64 L108.0 408.95 L109.0 409.23 L110.0 409.50 L111.0 409.74 L112.0 409.96 L113.0 410.16 L114.0 410.33 L115.0 410.47 L116.0 410.59 L117.0 410.68 L118.0 410.74 L119.0 410.77 L120.0 410.76 L121.0 410.73 L122.0 410.66 L123.0 410.55 L124.0 410.41 L125.0 410.24 L126.0 410.02 L127.0 409.76 L128.0 409.47 L129.0 409.13 L130.0 408.75 L131.0 408.32 L132.0 407.85 L133.0 407.34 L134.0 406.77 L135.0 406.16 L136.0 405.50 L137.0 404.79 L138.0 404.03 L139.0 403.22 L140.0 402.35 L141.0 401.43 L142.0 400.46 L143.0 399.45 L144.0 398.38 L145.0 397.28 L146.0 396.14 L147.0 394.97 L148.0 393.77 L149.0 392.54 L150.0 391.28 L151.0 390.01 L152.0 388.73 L153.0 387.43 L154.0 386.12 L155.0 384.80 L156.0 383.49 L157.0 382.17 L158.0 380.86 L159.0 379.56 L160.0 378.27 L161.0 377.00 L162.0 375.74 L163.0 374.51 L164.0 373.30 L165.0 372.11 L166.0 370.96 L167.0 369.84 L168.0 368.76 L169.0 367.71 L170.0 366.71 L171.0 365.75 L172.0 364.83 L173.0 363.97 L174.0 363.16 L175.0 362.41 L176.0 361.72 L177.0 361.09 L178.0 360.52 L179.0 360.02 L180.0 359.60 L181.0 359.24 L182.0 358.96 L183.0 358.75 L184.0 358.61 L185.0 358.53 L186.0 358.52 L187.0 358.58 L188.0 358.70 L189.0 358.88 L190.0 359.12 L191.0 359.42 L192.0 359.78 L193.0 360.19 L194.0 360.66 L195.0 361.18 L196.0 361.74 L197.0 362.36 L198.0 363.02 L199.0 363.72 L200.0 364.47 L201.0 365.25 L202.0 366.08 L203.0 366.94 L204.0 367.83 L205.0 368.76 L206.0 369.71 L207.0 370.70 L208.0 371.71 L209.0 372.75 L210.0 373.81 L211.0 374.89 L212.0 375.99 L213.0 377.11 L214.0 378.24 L215.0 379.39 L216.0 380.55 L217.0 381.72 L218.0 382.89 L219.0 384.08 L220.0 385.26 L221.0 386.45 L222.0 387.64 L223.0 388.83 L224.0 390.01 L225.0 391.19 L226.0 392.36 L227.0 393.53 L228.0 394.69 L229.0 395.84 L230.0 396.98 L231.0 398.11 L232.0 399.23 L233.0 400.35 L234.0 401.46 L235.0 402.55 L236.0 403.64 L237.0 404.72 L238.0 405.79 L239.0 406.85 L240.0 407.89 L241.0 408.93 L242.0 409.96 L243.0 410.97 L244.0 411.98 L245.0 412.97 L246.0 413.95 L247.0 414.92 L248.0 415.88 L249.0 416.82 L250.0 417.75 L251.0 418.67 L252.0 419.58 L253.0 420.47 L254.0 421.35 L255.0 422.21 L256.0 423.06 L257.0 423.90 L258.0 424.72 L259.0 425.53 L260.0 426.32 L261.0 427.10 L262.0 427.86 L263.0 428.61 L264.0 429.34 L265.0 430.06 L266.0 430.76 L267.0 431.44 L268.0 432.10 L269.0 432.75 L270.0 433.38 L271.0 434.00 L272.0 434.59 L273.0 435.17 L274.0 435.74 L275.0 436.28 L276.0 436.82 L277.0 437.33 L278.0 437.83 L279.0 438.32 L280.0 438.79 L281.0 439.24 L282.0 439.68 L283.0 440.11 L284.0 440.52 L285.0 440.92 L286.0 441.31 L287.0 441.68 L288.0 442.04 L289.0 442.39 L290.0 442.73 L291.0 443.05 L292.0 443.36 L293.0 443.66 L294.0 443.95 L295.0 444.23 L296.0 444.50 L297.0 444.76 L298.0 445.01 L299.0 445.25 L300.0 445.48 L301.0 445.70 L302.0 445.92 L303.0 446.12 L304.0 446.31 L305.0 446.50 L306.0 446.68 L307.0 446.86 L308.0 447.02 L309.0 447.18 L310.0 447.33 L311.0 447.48 L312.0 447.62 L313.0 447.75 L314.0 447.88 L315.0 448.01 L316.0 448.13 L317.0 448.24 L318.0 448.35 L319.0 448.46 L320.0 448.56 L321.0 448.66 L322.0 448.75 L323.0 448.85 L324.0 448.94 L325.0 449.02 L326.0 449.11 L327.0 449.19 L328.0 449.28 L329.0 449.36 L330.0 449.44 L331.0 449.52 L332.0 449.60 L333.0 449.67 L334.0 449.75 L335.0 449.83 L336.0 449.91 L337.0 450.00 L338.0 450.08 L339.0 450.16 L340.0 450.25 L341.0 450.34 L342.0 450.43 L343.0 450.52 L344.0 450.62 L345.0 450.71 L346.0 450.82" stroke="#c61e28" stroke-width="1.85" fill="none" stroke-linejoin="round" stroke-linecap="round"/>
<path d="M46.0 342.97 L47.0 343.60 L48.0 344.24 L49.0 344.86 L50.0 345.48 L51.0 346.10 L52.0 346.71 L53.0 347.32 L54.0 347.92 L55.0 348.52 L56.0 349.11 L57.0 349.70 L58.0 350.29 L59.0 350.87 L60.0 351.44 L61.0 352.02 L62.0 352.59 L63.0 353.16 L64.0 353.72 L65.0 354.28 L66.0 354.84 L67.0 355.39 L68.0 355.95 L69.0 356.50 L70.0 357.04 L71.0 357.59 L72.0 358.13 L73.0 358.68 L74.0 359.22 L75.0 359.76 L76.0 360.29 L77.0 360.83 L78.0 361.36 L79.0 361.90 L80.0 362.43 L81.0 362.96 L82.0 363.50 L83.0 364.03 L84.0 364.56 L85.0 365.09 L86.0 365.62 L87.0 366.15 L88.0 366.69 L89.0 367.22 L90.0 367.75 L91.0 368.29 L92.0 368.82 L93.0 369.36 L94.0 369.89 L95.0 370.42 L96.0 370.96 L97.0 371.48 L98.0 372.01 L99.0 372.53 L100.0 373.05 L101.0 373.57 L102.0 374.08 L103.0 374.59 L104.0 375.09 L105.0 375.59 L106.0 376.07 L107.0 376.56 L108.0 377.03 L109.0 377.50 L110.0 377.96 L111.0 378.41 L112.0 378.84 L113.0 379.27 L114.0 379.67 L115.0 380.06 L116.0 380.43 L117.0 380.77 L118.0 381.08 L119.0 381.36 L120.0 381.61 L121.0 381.82 L122.0 382.00 L123.0 382.13 L124.0 382.22 L125.0 382.26 L126.0 382.26 L127.0 382.20 L128.0 382.09 L129.0 381.93 L130.0 381.71 L131.0 381.44 L132.0 381.13 L133.0 380.77 L134.0 380.36 L135.0 379.91 L136.0 379.41 L137.0 378.88 L138.0 378.30 L139.0 377.68 L140.0 377.03 L141.0 376.35 L142.0 375.63 L143.0 374.87 L144.0 374.09 L145.0 373.27 L146.0 372.43 L147.0 371.56 L148.0 370.67 L149.0 369.75 L150.0 368.81 L151.0 367.85 L152.0 366.87 L153.0 365.87 L154.0 364.86 L155.0 363.83 L156.0 362.79 L157.0 361.73 L158.0 360.67 L159.0 359.59 L160.0 358.51 L161.0 357.43 L162.0 356.34 L163.0 355.25 L164.0 354.16 L165.0 353.08 L166.0 352.02 L167.0 350.96 L168.0 349.93 L169.0 348.91 L170.0 347.92 L171.0 346.96 L172.0 346.03 L173.0 345.13 L174.0 344.27 L175.0 343.45 L176.0 342.67 L177.0 341.95 L178.0 341.27 L179.0 340.65 L180.0 340.08 L181.0 339.58 L182.0 339.14 L183.0 338.75 L184.0 338.42 L185.0 338.16 L186.0 337.94 L187.0 337.79 L188.0 337.69 L189.0 337.64 L190.0 337.65 L191.0 337.71 L192.0 337.82 L193.0 337.98 L194.0 338.19 L195.0 338.45 L196.0 338.76 L197.0 339.11 L198.0 339.51 L199.0 339.96 L200.0 340.44 L201.0 340.97 L202.0 341.54 L203.0 342.14 L204.0 342.78 L205.0 343.45 L206.0 344.16 L207.0 344.90 L208.0 345.67 L209.0 346.47 L210.0 347.30 L211.0 348.15 L212.0 349.03 L213.0 349.93 L214.0 350.85 L215.0 351.79 L216.0 352.75 L217.0 353.73 L218.0 354.72 L219.0 355.73 L220.0 356.75 L221.0 357.78 L222.0 358.82 L223.0 359.87 L224.0 360.92 L225.0 361.98 L226.0 363.05 L227.0 364.11 L228.0 365.18 L229.0 366.25 L230.0 367.32 L231.0 368.38 L232.0 369.44 L233.0 370.49 L234.0 371.53 L235.0 372.56 L236.0 373.58 L237.0 374.60 L238.0 375.60 L239.0 376.58 L240.0 377.56 L241.0 378.53 L242.0 379.48 L243.0 380.43 L244.0 381.36 L245.0 382.28 L246.0 383.19 L247.0 384.08 L248.0 384.97 L249.0 385.84 L250.0 386.70 L251.0 387.54 L252.0 388.38 L253.0 389.20 L254.0 390.01 L255.0 390.81 L256.0 391.59 L257.0 392.36 L258.0 393.12 L259.0 393.86 L260.0 394.60 L261.0 395.31 L262.0 396.02 L263.0 396.71 L264.0 397.39 L265.0 398.05 L266.0 398.70 L267.0 399.34 L268.0 399.96 L269.0 400.57 L270.0 401.16 L271.0 401.74 L272.0 402.30 L273.0 402.86 L274.0 403.39 L275.0 403.92 L276.0 404.43 L277.0 404.92 L278.0 405.41 L279.0 405.88 L280.0 406.34 L281.0 406.79 L282.0 407.22 L283.0 407.64 L284.0 408.05 L285.0 408.45 L286.0 408.84 L287.0 409.22 L288.0 409.58 L289.0 409.94 L290.0 410.28 L291.0 410.61 L292.0 410.94 L293.0 411.25 L294.0 411.55 L295.0 411.85 L296.0 412.13 L297.0 412.41 L298.0 412.67 L299.0 412.93 L300.0 413.18 L301.0 413.42 L302.0 413.65 L303.0 413.87 L304.0 414.09 L305.0 414.29 L306.0 414.49 L307.0 414.69 L308.0 414.87 L309.0 415.05 L310.0 415.22 L311.0 415.39 L312.0 415.55 L313.0 415.70 L314.0 415.84 L315.0 415.99 L316.0 416.12 L317.0 416.25 L318.0 416.37 L319.0 416.49 L320.0 416.61 L321.0 416.72 L322.0 416.82 L323.0 416.93 L324.0 417.02 L325.0 417.12 L326.0 417.21 L327.0 417.29 L328.0 417.37 L329.0 417.45 L330.0 417.53 L331.0 417.61 L332.0 417.68 L333.0 417.75 L334.0 417.81 L335.0 417.88 L336.0 417.94 L337.0 418.00 L338.0 418.06 L339.0 418.12 L340.0 418.18 L341.0 418.24 L342.0 418.30 L343.0 418.35 L344.0 418.41 L345.0 418.47 L346.0 418.52" stroke="#1c4492" stroke-width="1.85" fill="none" stroke-linejoin="round" stroke-linecap="round"/>
<path d="M46.0 313.09 L47.0 313.80 L48.0 314.51 L49.0 315.22 L50.0 315.92 L51.0 316.61 L52.0 317.31 L53.0 318.00 L54.0 318.69 L55.0 319.37 L56.0 320.06 L57.0 320.74 L58.0 321.41 L59.0 322.09 L60.0 322.76 L61.0 323.44 L62.0 324.11 L63.0 324.78 L64.0 325.44 L65.0 326.11 L66.0 326.78 L67.0 327.44 L68.0 328.11 L69.0 328.77 L70.0 329.44 L71.0 330.10 L72.0 330.77 L73.0 331.43 L74.0 332.10 L75.0 332.76 L76.0 333.43 L77.0 334.10 L78.0 334.77 L79.0 335.44 L80.0 336.11 L81.0 336.78 L82.0 337.46 L83.0 338.13 L84.0 338.81 L85.0 339.49 L86.0 340.18 L87.0 340.87 L88.0 341.56 L89.0 342.25 L90.0 342.95 L91.0 343.64 L92.0 344.35 L93.0 345.05 L94.0 345.75 L95.0 346.45 L96.0 347.16 L97.0 347.85 L98.0 348.55 L99.0 349.24 L100.0 349.92 L101.0 350.60 L102.0 351.27 L103.0 351.93 L104.0 352.58 L105.0 353.22 L106.0 353.84 L107.0 354.46 L108.0 355.06 L109.0 355.64 L110.0 356.21 L111.0 356.76 L112.0 357.30 L113.0 357.81 L114.0 358.31 L115.0 358.78 L116.0 359.23 L117.0 359.66 L118.0 360.07 L119.0 360.44 L120.0 360.80 L121.0 361.12 L122.0 361.42 L123.0 361.69 L124.0 361.92 L125.0 362.13 L126.0 362.30 L127.0 362.44 L128.0 362.55 L129.0 362.62 L130.0 362.65 L131.0 362.65 L132.0 362.61 L133.0 362.52 L134.0 362.39 L135.0 362.22 L136.0 362.00 L137.0 361.73 L138.0 361.40 L139.0 361.03 L140.0 360.60 L141.0 360.11 L142.0 359.57 L143.0 358.97 L144.0 358.33 L145.0 357.64 L146.0 356.91 L147.0 356.14 L148.0 355.34 L149.0 354.50 L150.0 353.63 L151.0 352.73 L152.0 351.81 L153.0 350.87 L154.0 349.91 L155.0 348.94 L156.0 347.95 L157.0 346.95 L158.0 345.95 L159.0 344.95 L160.0 343.94 L161.0 342.94 L162.0 341.94 L163.0 340.95 L164.0 339.97 L165.0 339.01 L166.0 338.06 L167.0 337.13 L168.0 336.22 L169.0 335.34 L170.0 334.49 L171.0 333.66 L172.0 332.87 L173.0 332.11 L174.0 331.39 L175.0 330.71 L176.0 330.07 L177.0 329.48 L178.0 328.94 L179.0 328.45 L180.0 328.01 L181.0 327.63 L182.0 327.31 L183.0 327.04 L184.0 326.82 L185.0 326.64 L186.0 326.52 L187.0 326.45 L188.0 326.41 L189.0 326.43 L190.0 326.48 L191.0 326.57 L192.0 326.70 L193.0 326.87 L194.0 327.07 L195.0 327.30 L196.0 327.56 L197.0 327.86 L198.0 328.18 L199.0 328.53 L200.0 328.91 L201.0 329.32 L202.0 329.75 L203.0 330.21 L204.0 330.69 L205.0 331.19 L206.0 331.72 L207.0 332.27 L208.0 332.84 L209.0 333.43 L210.0 334.05 L211.0 334.68 L212.0 335.32 L213.0 335.99 L214.0 336.67 L215.0 337.37 L216.0 338.08 L217.0 338.81 L218.0 339.54 L219.0 340.30 L220.0 341.06 L221.0 341.83 L222.0 342.62 L223.0 343.41 L224.0 344.21 L225.0 345.02 L226.0 345.83 L227.0 346.65 L228.0 347.48 L229.0 348.31 L230.0 349.15 L231.0 349.98 L232.0 350.82 L233.0 351.66 L234.0 352.50 L235.0 353.34 L236.0 354.18 L237.0 355.02 L238.0 355.85 L239.0 356.68 L240.0 357.51 L241.0 358.34 L242.0 359.16 L243.0 359.98 L244.0 360.79 L245.0 361.60 L246.0 362.40 L247.0 363.20 L248.0 363.99 L249.0 364.78 L250.0 365.55 L251.0 366.32 L252.0 367.09 L253.0 367.84 L254.0 368.59 L255.0 369.32 L256.0 370.05 L257.0 370.77 L258.0 371.47 L259.0 372.17 L260.0 372.86 L261.0 373.53 L262.0 374.19 L263.0 374.84 L264.0 375.48 L265.0 376.10 L266.0 376.71 L267.0 377.31 L268.0 377.89 L269.0 378.46 L270.0 379.02 L271.0 379.55 L272.0 380.08 L273.0 380.58 L274.0 381.08 L275.0 381.56 L276.0 382.02 L277.0 382.47 L278.0 382.91 L279.0 383.33 L280.0 383.75 L281.0 384.15 L282.0 384.54 L283.0 384.91 L284.0 385.28 L285.0 385.63 L286.0 385.98 L287.0 386.31 L288.0 386.64 L289.0 386.95 L290.0 387.25 L291.0 387.55 L292.0 387.84 L293.0 388.11 L294.0 388.38 L295.0 388.65 L296.0 388.90 L297.0 389.15 L298.0 389.39 L299.0 389.63 L300.0 389.85 L301.0 390.08 L302.0 390.29 L303.0 390.51 L304.0 390.71 L305.0 390.92 L306.0 391.12 L307.0 391.31 L308.0 391.50 L309.0 391.69 L310.0 391.87 L311.0 392.06 L312.0 392.23 L313.0 392.41 L314.0 392.58 L315.0 392.75 L316.0 392.92 L317.0 393.08 L318.0 393.24 L319.0 393.40 L320.0 393.55 L321.0 393.70 L322.0 393.84 L323.0 393.98 L324.0 394.11 L325.0 394.24 L326.0 394.37 L327.0 394.48 L328.0 394.60 L329.0 394.71 L330.0 394.81 L331.0 394.90 L332.0 394.99 L333.0 395.08 L334.0 395.16 L335.0 395.23 L336.0 395.29 L337.0 395.35 L338.0 395.40 L339.0 395.45 L340.0 395.49 L341.0 395.52 L342.0 395.54 L343.0 395.55 L344.0 395.56 L345.0 395.56 L346.0 395.55" stroke="#a84a9c" stroke-width="1.85" fill="none" stroke-linejoin="round" stroke-linecap="round"/>
<rect x="36" y="290.00" width="320.4" height="233.70" fill="none" stroke="#4a4a4a" stroke-width="1.3"/>
<line x1="36" y1="312.90" x2="40.5" y2="312.90" stroke="#4a4a4a" stroke-width="1.3"/>
<text x="30.8" y="316.40" class="tl" text-anchor="end">1.2</text>
<line x1="36" y1="359.86" x2="40.5" y2="359.86" stroke="#4a4a4a" stroke-width="1.3"/>
<text x="30.8" y="363.36" class="tl" text-anchor="end">1.0</text>
<line x1="36" y1="406.82" x2="40.5" y2="406.82" stroke="#4a4a4a" stroke-width="1.3"/>
<text x="30.8" y="410.32" class="tl" text-anchor="end">0.8</text>
<line x1="36" y1="453.78" x2="40.5" y2="453.78" stroke="#4a4a4a" stroke-width="1.3"/>
<text x="30.8" y="457.28" class="tl" text-anchor="end">0.6</text>
<line x1="36" y1="500.74" x2="40.5" y2="500.74" stroke="#4a4a4a" stroke-width="1.3"/>
<text x="30.8" y="504.24" class="tl" text-anchor="end">0.4</text>
<line x1="46.00" y1="523.70" x2="46.00" y2="519.20" stroke="#4a4a4a" stroke-width="1.3"/>
<text x="46.00" y="537.00" class="tl" text-anchor="middle">400</text>
<line x1="96.00" y1="523.70" x2="96.00" y2="519.20" stroke="#4a4a4a" stroke-width="1.3"/>
<text x="96.00" y="537.00" class="tl" text-anchor="middle">450</text>
<line x1="146.00" y1="523.70" x2="146.00" y2="519.20" stroke="#4a4a4a" stroke-width="1.3"/>
<text x="146.00" y="537.00" class="tl" text-anchor="middle">500</text>
<line x1="196.00" y1="523.70" x2="196.00" y2="519.20" stroke="#4a4a4a" stroke-width="1.3"/>
<text x="196.00" y="537.00" class="tl" text-anchor="middle">550</text>
<line x1="246.00" y1="523.70" x2="246.00" y2="519.20" stroke="#4a4a4a" stroke-width="1.3"/>
<text x="246.00" y="537.00" class="tl" text-anchor="middle">600</text>
<line x1="296.00" y1="523.70" x2="296.00" y2="519.20" stroke="#4a4a4a" stroke-width="1.3"/>
<text x="296.00" y="537.00" class="tl" text-anchor="middle">650</text>
<line x1="346.00" y1="523.70" x2="346.00" y2="519.20" stroke="#4a4a4a" stroke-width="1.3"/>
<text x="346.00" y="537.00" class="tl" text-anchor="middle">700</text>
<text x="196" y="553.90" class="ax" text-anchor="middle">Wavelength (nm)</text>
<text transform="translate(11.2 406.85) rotate(-90)" class="ax" text-anchor="middle">Absorbance</text>
<text x="44.9" y="306.00" class="pl">b</text>
<line x1="278.30" y1="304.70" x2="306.20" y2="304.70" stroke="#0c0c0c" stroke-width="2.0"/>
<text x="309.30" y="308.90" class="lg">0.5 mM</text>
<line x1="278.30" y1="320.30" x2="306.20" y2="320.30" stroke="#c61e28" stroke-width="2.0"/>
<text x="309.30" y="324.50" class="lg">1.0 mM</text>
<line x1="278.30" y1="336.00" x2="306.20" y2="336.00" stroke="#1c4492" stroke-width="2.0"/>
<text x="309.30" y="340.20" class="lg">1.5 mM</text>
<line x1="278.30" y1="351.60" x2="306.20" y2="351.60" stroke="#a84a9c" stroke-width="2.0"/>
<text x="309.30" y="355.80" class="lg">2.0 mM</text>
<path d="M46.0 707.62 L47.0 707.86 L48.0 708.10 L49.0 708.35 L50.0 708.60 L51.0 708.86 L52.0 709.12 L53.0 709.38 L54.0 709.65 L55.0 709.92 L56.0 710.20 L57.0 710.47 L58.0 710.76 L59.0 711.04 L60.0 711.33 L61.0 711.62 L62.0 711.91 L63.0 712.21 L64.0 712.51 L65.0 712.81 L66.0 713.11 L67.0 713.41 L68.0 713.72 L69.0 714.02 L70.0 714.33 L71.0 714.64 L72.0 714.95 L73.0 715.26 L74.0 715.57 L75.0 715.88 L76.0 716.19 L77.0 716.50 L78.0 716.81 L79.0 717.13 L80.0 717.44 L81.0 717.75 L82.0 718.05 L83.0 718.36 L84.0 718.67 L85.0 718.98 L86.0 719.28 L87.0 719.58 L88.0 719.89 L89.0 720.18 L90.0 720.48 L91.0 720.78 L92.0 721.07 L93.0 721.36 L94.0 721.65 L95.0 721.93 L96.0 722.21 L97.0 722.49 L98.0 722.77 L99.0 723.04 L100.0 723.30 L101.0 723.57 L102.0 723.83 L103.0 724.08 L104.0 724.33 L105.0 724.58 L106.0 724.82 L107.0 725.06 L108.0 725.29 L109.0 725.52 L110.0 725.74 L111.0 725.95 L112.0 726.16 L113.0 726.37 L114.0 726.57 L115.0 726.76 L116.0 726.94 L117.0 727.12 L118.0 727.29 L119.0 727.46 L120.0 727.62 L121.0 727.77 L122.0 727.91 L123.0 728.05 L124.0 728.18 L125.0 728.30 L126.0 728.41 L127.0 728.51 L128.0 728.61 L129.0 728.70 L130.0 728.78 L131.0 728.85 L132.0 728.91 L133.0 728.96 L134.0 729.01 L135.0 729.04 L136.0 729.07 L137.0 729.10 L138.0 729.11 L139.0 729.12 L140.0 729.12 L141.0 729.11 L142.0 729.10 L143.0 729.08 L144.0 729.05 L145.0 729.02 L146.0 728.98 L147.0 728.94 L148.0 728.89 L149.0 728.83 L150.0 728.77 L151.0 728.71 L152.0 728.64 L153.0 728.57 L154.0 728.49 L155.0 728.41 L156.0 728.33 L157.0 728.24 L158.0 728.14 L159.0 728.05 L160.0 727.95 L161.0 727.85 L162.0 727.75 L163.0 727.64 L164.0 727.53 L165.0 727.42 L166.0 727.31 L167.0 727.20 L168.0 727.09 L169.0 726.97 L170.0 726.85 L171.0 726.74 L172.0 726.62 L173.0 726.50 L174.0 726.38 L175.0 726.26 L176.0 726.15 L177.0 726.03 L178.0 725.91 L179.0 725.80 L180.0 725.68 L181.0 725.57 L182.0 725.46 L183.0 725.34 L184.0 725.24 L185.0 725.13 L186.0 725.03 L187.0 724.92 L188.0 724.82 L189.0 724.73 L190.0 724.64 L191.0 724.55 L192.0 724.46 L193.0 724.38 L194.0 724.30 L195.0 724.22 L196.0 724.15 L197.0 724.09 L198.0 724.03 L199.0 723.97 L200.0 723.92 L201.0 723.88 L202.0 723.84 L203.0 723.80 L204.0 723.77 L205.0 723.74 L206.0 723.72 L207.0 723.71 L208.0 723.70 L209.0 723.69 L210.0 723.69 L211.0 723.69 L212.0 723.70 L213.0 723.71 L214.0 723.73 L215.0 723.75 L216.0 723.77 L217.0 723.80 L218.0 723.84 L219.0 723.87 L220.0 723.91 L221.0 723.96 L222.0 724.00 L223.0 724.05 L224.0 724.11 L225.0 724.17 L226.0 724.23 L227.0 724.29 L228.0 724.36 L229.0 724.43 L230.0 724.50 L231.0 724.58 L232.0 724.65 L233.0 724.74 L234.0 724.82 L235.0 724.91 L236.0 725.00 L237.0 725.09 L238.0 725.18 L239.0 725.28 L240.0 725.37 L241.0 725.47 L242.0 725.58 L243.0 725.68 L244.0 725.79 L245.0 725.89 L246.0 726.00 L247.0 726.11 L248.0 726.22 L249.0 726.34 L250.0 726.45 L251.0 726.57 L252.0 726.68 L253.0 726.80 L254.0 726.92 L255.0 727.04 L256.0 727.16 L257.0 727.28 L258.0 727.41 L259.0 727.53 L260.0 727.65 L261.0 727.77 L262.0 727.90 L263.0 728.02 L264.0 728.15 L265.0 728.27 L266.0 728.39 L267.0 728.52 L268.0 728.64 L269.0 728.77 L270.0 728.89 L271.0 729.01 L272.0 729.13 L273.0 729.26 L274.0 729.38 L275.0 729.50 L276.0 729.62 L277.0 729.73 L278.0 729.85 L279.0 729.97 L280.0 730.08 L281.0 730.20 L282.0 730.31 L283.0 730.42 L284.0 730.53 L285.0 730.64 L286.0 730.75 L287.0 730.86 L288.0 730.97 L289.0 731.07 L290.0 731.18 L291.0 731.28 L292.0 731.39 L293.0 731.49 L294.0 731.60 L295.0 731.70 L296.0 731.80 L297.0 731.91 L298.0 732.01 L299.0 732.11 L300.0 732.21 L301.0 732.32 L302.0 732.42 L303.0 732.52 L304.0 732.63 L305.0 732.73 L306.0 732.83 L307.0 732.94 L308.0 733.05 L309.0 733.15 L310.0 733.26 L311.0 733.37 L312.0 733.47 L313.0 733.58 L314.0 733.69 L315.0 733.80 L316.0 733.92 L317.0 734.03 L318.0 734.14 L319.0 734.26 L320.0 734.38 L321.0 734.50 L322.0 734.62 L323.0 734.74 L324.0 734.86 L325.0 734.99 L326.0 735.11 L327.0 735.24 L328.0 735.37 L329.0 735.50 L330.0 735.64 L331.0 735.78 L332.0 735.91 L333.0 736.06 L334.0 736.20 L335.0 736.34 L336.0 736.49 L337.0 736.64 L338.0 736.80 L339.0 736.95 L340.0 737.11 L341.0 737.27 L342.0 737.44 L343.0 737.60 L344.0 737.77 L345.0 737.94 L346.0 738.12" stroke="#0c0c0c" stroke-width="1.85" fill="none" stroke-linejoin="round" stroke-linecap="round"/>
<path d="M46.0 637.70 L47.0 638.35 L48.0 638.99 L49.0 639.61 L50.0 640.23 L51.0 640.83 L52.0 641.43 L53.0 642.01 L54.0 642.58 L55.0 643.15 L56.0 643.70 L57.0 644.25 L58.0 644.79 L59.0 645.32 L60.0 645.84 L61.0 646.35 L62.0 646.85 L63.0 647.35 L64.0 647.84 L65.0 648.33 L66.0 648.80 L67.0 649.27 L68.0 649.74 L69.0 650.19 L70.0 650.65 L71.0 651.09 L72.0 651.53 L73.0 651.97 L74.0 652.40 L75.0 652.83 L76.0 653.25 L77.0 653.67 L78.0 654.09 L79.0 654.50 L80.0 654.91 L81.0 655.32 L82.0 655.72 L83.0 656.12 L84.0 656.52 L85.0 656.92 L86.0 657.32 L87.0 657.71 L88.0 658.11 L89.0 658.50 L90.0 658.89 L91.0 659.29 L92.0 659.68 L93.0 660.07 L94.0 660.45 L95.0 660.84 L96.0 661.21 L97.0 661.58 L98.0 661.94 L99.0 662.30 L100.0 662.64 L101.0 662.97 L102.0 663.30 L103.0 663.61 L104.0 663.90 L105.0 664.18 L106.0 664.45 L107.0 664.70 L108.0 664.93 L109.0 665.14 L110.0 665.33 L111.0 665.50 L112.0 665.65 L113.0 665.78 L114.0 665.88 L115.0 665.95 L116.0 666.00 L117.0 666.03 L118.0 666.02 L119.0 665.99 L120.0 665.93 L121.0 665.83 L122.0 665.70 L123.0 665.54 L124.0 665.35 L125.0 665.12 L126.0 664.85 L127.0 664.55 L128.0 664.20 L129.0 663.82 L130.0 663.40 L131.0 662.93 L132.0 662.43 L133.0 661.88 L134.0 661.29 L135.0 660.66 L136.0 659.99 L137.0 659.27 L138.0 658.52 L139.0 657.72 L140.0 656.89 L141.0 656.01 L142.0 655.09 L143.0 654.13 L144.0 653.13 L145.0 652.09 L146.0 651.01 L147.0 649.89 L148.0 648.72 L149.0 647.52 L150.0 646.28 L151.0 644.99 L152.0 643.67 L153.0 642.32 L154.0 640.95 L155.0 639.55 L156.0 638.13 L157.0 636.70 L158.0 635.27 L159.0 633.83 L160.0 632.39 L161.0 630.96 L162.0 629.54 L163.0 628.14 L164.0 626.75 L165.0 625.40 L166.0 624.07 L167.0 622.77 L168.0 621.52 L169.0 620.31 L170.0 619.14 L171.0 618.03 L172.0 616.98 L173.0 615.98 L174.0 615.05 L175.0 614.18 L176.0 613.37 L177.0 612.64 L178.0 611.97 L179.0 611.38 L180.0 610.87 L181.0 610.44 L182.0 610.10 L183.0 609.83 L184.0 609.66 L185.0 609.58 L186.0 609.59 L187.0 609.70 L188.0 609.89 L189.0 610.18 L190.0 610.56 L191.0 611.01 L192.0 611.54 L193.0 612.14 L194.0 612.81 L195.0 613.54 L196.0 614.33 L197.0 615.18 L198.0 616.07 L199.0 617.02 L200.0 618.00 L201.0 619.03 L202.0 620.09 L203.0 621.19 L204.0 622.32 L205.0 623.48 L206.0 624.67 L207.0 625.89 L208.0 627.14 L209.0 628.42 L210.0 629.72 L211.0 631.04 L212.0 632.39 L213.0 633.75 L214.0 635.14 L215.0 636.54 L216.0 637.96 L217.0 639.39 L218.0 640.83 L219.0 642.29 L220.0 643.76 L221.0 645.23 L222.0 646.71 L223.0 648.20 L224.0 649.69 L225.0 651.19 L226.0 652.68 L227.0 654.18 L228.0 655.67 L229.0 657.16 L230.0 658.64 L231.0 660.12 L232.0 661.59 L233.0 663.05 L234.0 664.50 L235.0 665.93 L236.0 667.36 L237.0 668.77 L238.0 670.16 L239.0 671.53 L240.0 672.88 L241.0 674.22 L242.0 675.53 L243.0 676.82 L244.0 678.09 L245.0 679.34 L246.0 680.57 L247.0 681.78 L248.0 682.97 L249.0 684.14 L250.0 685.29 L251.0 686.42 L252.0 687.54 L253.0 688.64 L254.0 689.71 L255.0 690.78 L256.0 691.82 L257.0 692.85 L258.0 693.86 L259.0 694.85 L260.0 695.82 L261.0 696.78 L262.0 697.73 L263.0 698.66 L264.0 699.57 L265.0 700.47 L266.0 701.35 L267.0 702.22 L268.0 703.07 L269.0 703.91 L270.0 704.74 L271.0 705.55 L272.0 706.34 L273.0 707.13 L274.0 707.90 L275.0 708.66 L276.0 709.41 L277.0 710.14 L278.0 710.86 L279.0 711.57 L280.0 712.27 L281.0 712.96 L282.0 713.64 L283.0 714.30 L284.0 714.96 L285.0 715.60 L286.0 716.24 L287.0 716.86 L288.0 717.47 L289.0 718.07 L290.0 718.66 L291.0 719.24 L292.0 719.81 L293.0 720.37 L294.0 720.92 L295.0 721.46 L296.0 721.99 L297.0 722.51 L298.0 723.01 L299.0 723.51 L300.0 724.00 L301.0 724.48 L302.0 724.95 L303.0 725.41 L304.0 725.86 L305.0 726.31 L306.0 726.74 L307.0 727.16 L308.0 727.58 L309.0 727.98 L310.0 728.38 L311.0 728.76 L312.0 729.14 L313.0 729.51 L314.0 729.87 L315.0 730.22 L316.0 730.57 L317.0 730.90 L318.0 731.23 L319.0 731.55 L320.0 731.86 L321.0 732.16 L322.0 732.45 L323.0 732.74 L324.0 733.02 L325.0 733.29 L326.0 733.55 L327.0 733.81 L328.0 734.05 L329.0 734.29 L330.0 734.52 L331.0 734.75 L332.0 734.97 L333.0 735.18 L334.0 735.38 L335.0 735.58 L336.0 735.77 L337.0 735.95 L338.0 736.12 L339.0 736.29 L340.0 736.45 L341.0 736.61 L342.0 736.76 L343.0 736.90 L344.0 737.03 L345.0 737.16 L346.0 737.29" stroke="#c61e28" stroke-width="1.85" fill="none" stroke-linejoin="round" stroke-linecap="round"/>
<path d="M46.0 658.74 L47.0 659.45 L48.0 660.15 L49.0 660.86 L50.0 661.55 L51.0 662.25 L52.0 662.94 L53.0 663.62 L54.0 664.30 L55.0 664.98 L56.0 665.64 L57.0 666.31 L58.0 666.96 L59.0 667.62 L60.0 668.26 L61.0 668.90 L62.0 669.53 L63.0 670.15 L64.0 670.77 L65.0 671.38 L66.0 671.98 L67.0 672.57 L68.0 673.15 L69.0 673.73 L70.0 674.29 L71.0 674.85 L72.0 675.40 L73.0 675.94 L74.0 676.47 L75.0 676.99 L76.0 677.49 L77.0 677.99 L78.0 678.48 L79.0 678.96 L80.0 679.42 L81.0 679.88 L82.0 680.32 L83.0 680.75 L84.0 681.17 L85.0 681.57 L86.0 681.97 L87.0 682.35 L88.0 682.71 L89.0 683.07 L90.0 683.41 L91.0 683.73 L92.0 684.05 L93.0 684.35 L94.0 684.63 L95.0 684.90 L96.0 685.15 L97.0 685.39 L98.0 685.62 L99.0 685.82 L100.0 686.02 L101.0 686.19 L102.0 686.35 L103.0 686.49 L104.0 686.62 L105.0 686.72 L106.0 686.81 L107.0 686.88 L108.0 686.93 L109.0 686.95 L110.0 686.96 L111.0 686.94 L112.0 686.91 L113.0 686.85 L114.0 686.77 L115.0 686.66 L116.0 686.53 L117.0 686.37 L118.0 686.19 L119.0 685.99 L120.0 685.75 L121.0 685.49 L122.0 685.21 L123.0 684.89 L124.0 684.55 L125.0 684.17 L126.0 683.77 L127.0 683.34 L128.0 682.88 L129.0 682.38 L130.0 681.86 L131.0 681.30 L132.0 680.71 L133.0 680.08 L134.0 679.43 L135.0 678.73 L136.0 678.01 L137.0 677.24 L138.0 676.44 L139.0 675.61 L140.0 674.74 L141.0 673.83 L142.0 672.88 L143.0 671.91 L144.0 670.91 L145.0 669.88 L146.0 668.84 L147.0 667.78 L148.0 666.71 L149.0 665.63 L150.0 664.55 L151.0 663.46 L152.0 662.38 L153.0 661.30 L154.0 660.23 L155.0 659.17 L156.0 658.14 L157.0 657.12 L158.0 656.12 L159.0 655.16 L160.0 654.22 L161.0 653.32 L162.0 652.46 L163.0 651.64 L164.0 650.87 L165.0 650.15 L166.0 649.48 L167.0 648.87 L168.0 648.31 L169.0 647.82 L170.0 647.40 L171.0 647.05 L172.0 646.77 L173.0 646.57 L174.0 646.43 L175.0 646.36 L176.0 646.37 L177.0 646.44 L178.0 646.58 L179.0 646.80 L180.0 647.08 L181.0 647.43 L182.0 647.86 L183.0 648.34 L184.0 648.90 L185.0 649.51 L186.0 650.19 L187.0 650.93 L188.0 651.74 L189.0 652.59 L190.0 653.51 L191.0 654.48 L192.0 655.51 L193.0 656.59 L194.0 657.72 L195.0 658.90 L196.0 660.12 L197.0 661.40 L198.0 662.72 L199.0 664.09 L200.0 665.49 L201.0 666.94 L202.0 668.43 L203.0 669.96 L204.0 671.53 L205.0 673.13 L206.0 674.77 L207.0 676.44 L208.0 678.14 L209.0 679.87 L210.0 681.64 L211.0 683.42 L212.0 685.24 L213.0 687.07 L214.0 688.93 L215.0 690.80 L216.0 692.69 L217.0 694.58 L218.0 696.49 L219.0 698.40 L220.0 700.31 L221.0 702.23 L222.0 704.14 L223.0 706.04 L224.0 707.94 L225.0 709.83 L226.0 711.70 L227.0 713.56 L228.0 715.40 L229.0 717.22 L230.0 719.01 L231.0 720.77 L232.0 722.51 L233.0 724.21 L234.0 725.89 L235.0 727.53 L236.0 729.14 L237.0 730.72 L238.0 732.27 L239.0 733.79 L240.0 735.28 L241.0 736.75 L242.0 738.18 L243.0 739.59 L244.0 740.96 L245.0 742.31 L246.0 743.64 L247.0 744.93 L248.0 746.20 L249.0 747.45 L250.0 748.66 L251.0 749.86 L252.0 751.02 L253.0 752.16 L254.0 753.28 L255.0 754.38 L256.0 755.45 L257.0 756.49 L258.0 757.51 L259.0 758.52 L260.0 759.49 L261.0 760.45 L262.0 761.38 L263.0 762.30 L264.0 763.19 L265.0 764.06 L266.0 764.91 L267.0 765.74 L268.0 766.55 L269.0 767.34 L270.0 768.12 L271.0 768.87 L272.0 769.61 L273.0 770.33 L274.0 771.03 L275.0 771.71 L276.0 772.38 L277.0 773.03 L278.0 773.66 L279.0 774.28 L280.0 774.89 L281.0 775.48 L282.0 776.06 L283.0 776.62 L284.0 777.17 L285.0 777.71 L286.0 778.23 L287.0 778.75 L288.0 779.25 L289.0 779.74 L290.0 780.22 L291.0 780.69 L292.0 781.15 L293.0 781.60 L294.0 782.04 L295.0 782.47 L296.0 782.89 L297.0 783.31 L298.0 783.72 L299.0 784.12 L300.0 784.51 L301.0 784.90 L302.0 785.28 L303.0 785.66 L304.0 786.03 L305.0 786.40 L306.0 786.77 L307.0 787.13 L308.0 787.49 L309.0 787.84 L310.0 788.19 L311.0 788.54 L312.0 788.89 L313.0 789.24 L314.0 789.58 L315.0 789.93 L316.0 790.28 L317.0 790.62 L318.0 790.97 L319.0 791.32 L320.0 791.66 L321.0 792.00 L322.0 792.34 L323.0 792.68 L324.0 793.01 L325.0 793.33 L326.0 793.65 L327.0 793.97 L328.0 794.27 L329.0 794.57 L330.0 794.86 L331.0 795.14 L332.0 795.41 L333.0 795.67 L334.0 795.91 L335.0 796.15 L336.0 796.37 L337.0 796.57 L338.0 796.76 L339.0 796.94 L340.0 797.10 L341.0 797.25 L342.0 797.37 L343.0 797.48 L344.0 797.57 L345.0 797.64 L346.0 797.68" stroke="#1c4492" stroke-width="1.85" fill="none" stroke-linejoin="round" stroke-linecap="round"/>
<path d="M46.0 679.57 L47.0 680.18 L48.0 680.79 L49.0 681.40 L50.0 682.02 L51.0 682.63 L52.0 683.24 L53.0 683.86 L54.0 684.48 L55.0 685.09 L56.0 685.71 L57.0 686.32 L58.0 686.94 L59.0 687.55 L60.0 688.17 L61.0 688.78 L62.0 689.40 L63.0 690.01 L64.0 690.62 L65.0 691.23 L66.0 691.84 L67.0 692.45 L68.0 693.06 L69.0 693.66 L70.0 694.27 L71.0 694.87 L72.0 695.47 L73.0 696.06 L74.0 696.66 L75.0 697.25 L76.0 697.84 L77.0 698.42 L78.0 699.01 L79.0 699.59 L80.0 700.16 L81.0 700.73 L82.0 701.30 L83.0 701.87 L84.0 702.43 L85.0 702.99 L86.0 703.54 L87.0 704.09 L88.0 704.64 L89.0 705.18 L90.0 705.71 L91.0 706.24 L92.0 706.77 L93.0 707.29 L94.0 707.80 L95.0 708.31 L96.0 708.81 L97.0 709.31 L98.0 709.80 L99.0 710.29 L100.0 710.77 L101.0 711.24 L102.0 711.71 L103.0 712.17 L104.0 712.62 L105.0 713.07 L106.0 713.51 L107.0 713.94 L108.0 714.36 L109.0 714.78 L110.0 715.19 L111.0 715.59 L112.0 715.98 L113.0 716.37 L114.0 716.75 L115.0 717.11 L116.0 717.47 L117.0 717.83 L118.0 718.17 L119.0 718.50 L120.0 718.83 L121.0 719.14 L122.0 719.45 L123.0 719.74 L124.0 720.03 L125.0 720.31 L126.0 720.57 L127.0 720.83 L128.0 721.08 L129.0 721.31 L130.0 721.54 L131.0 721.75 L132.0 721.96 L133.0 722.15 L134.0 722.33 L135.0 722.51 L136.0 722.67 L137.0 722.83 L138.0 722.98 L139.0 723.12 L140.0 723.25 L141.0 723.38 L142.0 723.50 L143.0 723.61 L144.0 723.71 L145.0 723.81 L146.0 723.90 L147.0 723.99 L148.0 724.07 L149.0 724.15 L150.0 724.22 L151.0 724.29 L152.0 724.35 L153.0 724.41 L154.0 724.47 L155.0 724.52 L156.0 724.58 L157.0 724.63 L158.0 724.67 L159.0 724.72 L160.0 724.76 L161.0 724.81 L162.0 724.85 L163.0 724.89 L164.0 724.94 L165.0 724.98 L166.0 725.02 L167.0 725.07 L168.0 725.11 L169.0 725.16 L170.0 725.21 L171.0 725.26 L172.0 725.32 L173.0 725.37 L174.0 725.43 L175.0 725.49 L176.0 725.55 L177.0 725.62 L178.0 725.69 L179.0 725.76 L180.0 725.83 L181.0 725.90 L182.0 725.98 L183.0 726.06 L184.0 726.14 L185.0 726.22 L186.0 726.31 L187.0 726.39 L188.0 726.48 L189.0 726.58 L190.0 726.67 L191.0 726.77 L192.0 726.86 L193.0 726.96 L194.0 727.07 L195.0 727.17 L196.0 727.28 L197.0 727.39 L198.0 727.50 L199.0 727.61 L200.0 727.73 L201.0 727.85 L202.0 727.97 L203.0 728.09 L204.0 728.21 L205.0 728.34 L206.0 728.47 L207.0 728.60 L208.0 728.73 L209.0 728.86 L210.0 729.00 L211.0 729.14 L212.0 729.27 L213.0 729.41 L214.0 729.56 L215.0 729.70 L216.0 729.85 L217.0 729.99 L218.0 730.14 L219.0 730.29 L220.0 730.44 L221.0 730.59 L222.0 730.75 L223.0 730.90 L224.0 731.06 L225.0 731.22 L226.0 731.37 L227.0 731.53 L228.0 731.69 L229.0 731.86 L230.0 732.02 L231.0 732.18 L232.0 732.35 L233.0 732.51 L234.0 732.68 L235.0 732.84 L236.0 733.01 L237.0 733.18 L238.0 733.35 L239.0 733.52 L240.0 733.69 L241.0 733.86 L242.0 734.03 L243.0 734.20 L244.0 734.37 L245.0 734.54 L246.0 734.71 L247.0 734.89 L248.0 735.06 L249.0 735.23 L250.0 735.40 L251.0 735.58 L252.0 735.75 L253.0 735.92 L254.0 736.10 L255.0 736.27 L256.0 736.44 L257.0 736.61 L258.0 736.79 L259.0 736.96 L260.0 737.13 L261.0 737.30 L262.0 737.47 L263.0 737.64 L264.0 737.81 L265.0 737.98 L266.0 738.15 L267.0 738.32 L268.0 738.49 L269.0 738.66 L270.0 738.83 L271.0 738.99 L272.0 739.16 L273.0 739.32 L274.0 739.48 L275.0 739.65 L276.0 739.81 L277.0 739.97 L278.0 740.13 L279.0 740.29 L280.0 740.45 L281.0 740.60 L282.0 740.76 L283.0 740.91 L284.0 741.07 L285.0 741.22 L286.0 741.37 L287.0 741.52 L288.0 741.66 L289.0 741.81 L290.0 741.95 L291.0 742.10 L292.0 742.24 L293.0 742.38 L294.0 742.51 L295.0 742.65 L296.0 742.78 L297.0 742.92 L298.0 743.05 L299.0 743.18 L300.0 743.30 L301.0 743.43 L302.0 743.55 L303.0 743.67 L304.0 743.79 L305.0 743.91 L306.0 744.02 L307.0 744.13 L308.0 744.24 L309.0 744.35 L310.0 744.46 L311.0 744.56 L312.0 744.66 L313.0 744.76 L314.0 744.85 L315.0 744.95 L316.0 745.04 L317.0 745.12 L318.0 745.21 L319.0 745.29 L320.0 745.37 L321.0 745.45 L322.0 745.52 L323.0 745.59 L324.0 745.66 L325.0 745.73 L326.0 745.79 L327.0 745.85 L328.0 745.90 L329.0 745.96 L330.0 746.01 L331.0 746.05 L332.0 746.09 L333.0 746.13 L334.0 746.17 L335.0 746.20 L336.0 746.23 L337.0 746.26 L338.0 746.28 L339.0 746.30 L340.0 746.32 L341.0 746.33 L342.0 746.34 L343.0 746.34 L344.0 746.34 L345.0 746.34 L346.0 746.34" stroke="#a84a9c" stroke-width="1.85" fill="none" stroke-linejoin="round" stroke-linecap="round"/>
<path d="M46.0 670.76 L47.0 671.37 L48.0 671.98 L49.0 672.59 L50.0 673.21 L51.0 673.83 L52.0 674.45 L53.0 675.08 L54.0 675.70 L55.0 676.33 L56.0 676.97 L57.0 677.60 L58.0 678.23 L59.0 678.87 L60.0 679.50 L61.0 680.14 L62.0 680.78 L63.0 681.42 L64.0 682.05 L65.0 682.69 L66.0 683.32 L67.0 683.96 L68.0 684.59 L69.0 685.22 L70.0 685.85 L71.0 686.48 L72.0 687.10 L73.0 687.73 L74.0 688.35 L75.0 688.96 L76.0 689.58 L77.0 690.19 L78.0 690.79 L79.0 691.39 L80.0 691.99 L81.0 692.58 L82.0 693.17 L83.0 693.76 L84.0 694.33 L85.0 694.90 L86.0 695.47 L87.0 696.03 L88.0 696.58 L89.0 697.13 L90.0 697.67 L91.0 698.20 L92.0 698.73 L93.0 699.24 L94.0 699.75 L95.0 700.25 L96.0 700.75 L97.0 701.23 L98.0 701.71 L99.0 702.18 L100.0 702.63 L101.0 703.08 L102.0 703.52 L103.0 703.95 L104.0 704.37 L105.0 704.78 L106.0 705.18 L107.0 705.57 L108.0 705.95 L109.0 706.32 L110.0 706.67 L111.0 707.02 L112.0 707.35 L113.0 707.67 L114.0 707.98 L115.0 708.27 L116.0 708.56 L117.0 708.83 L118.0 709.08 L119.0 709.32 L120.0 709.55 L121.0 709.76 L122.0 709.96 L123.0 710.14 L124.0 710.31 L125.0 710.45 L126.0 710.59 L127.0 710.70 L128.0 710.80 L129.0 710.88 L130.0 710.94 L131.0 710.99 L132.0 711.01 L133.0 711.02 L134.0 711.02 L135.0 711.00 L136.0 710.96 L137.0 710.91 L138.0 710.84 L139.0 710.76 L140.0 710.67 L141.0 710.57 L142.0 710.46 L143.0 710.34 L144.0 710.20 L145.0 710.06 L146.0 709.91 L147.0 709.76 L148.0 709.59 L149.0 709.42 L150.0 709.25 L151.0 709.07 L152.0 708.89 L153.0 708.70 L154.0 708.51 L155.0 708.32 L156.0 708.12 L157.0 707.93 L158.0 707.74 L159.0 707.54 L160.0 707.35 L161.0 707.16 L162.0 706.97 L163.0 706.79 L164.0 706.61 L165.0 706.44 L166.0 706.27 L167.0 706.10 L168.0 705.95 L169.0 705.80 L170.0 705.66 L171.0 705.53 L172.0 705.40 L173.0 705.29 L174.0 705.19 L175.0 705.09 L176.0 705.00 L177.0 704.93 L178.0 704.86 L179.0 704.80 L180.0 704.75 L181.0 704.71 L182.0 704.68 L183.0 704.66 L184.0 704.65 L185.0 704.64 L186.0 704.65 L187.0 704.67 L188.0 704.70 L189.0 704.73 L190.0 704.78 L191.0 704.84 L192.0 704.90 L193.0 704.98 L194.0 705.06 L195.0 705.15 L196.0 705.25 L197.0 705.35 L198.0 705.46 L199.0 705.57 L200.0 705.68 L201.0 705.80 L202.0 705.92 L203.0 706.04 L204.0 706.17 L205.0 706.30 L206.0 706.43 L207.0 706.56 L208.0 706.69 L209.0 706.83 L210.0 706.97 L211.0 707.11 L212.0 707.25 L213.0 707.40 L214.0 707.54 L215.0 707.69 L216.0 707.84 L217.0 707.99 L218.0 708.14 L219.0 708.29 L220.0 708.44 L221.0 708.60 L222.0 708.75 L223.0 708.91 L224.0 709.06 L225.0 709.22 L226.0 709.37 L227.0 709.53 L228.0 709.69 L229.0 709.85 L230.0 710.00 L231.0 710.16 L232.0 710.32 L233.0 710.47 L234.0 710.63 L235.0 710.79 L236.0 710.94 L237.0 711.10 L238.0 711.25 L239.0 711.40 L240.0 711.55 L241.0 711.70 L242.0 711.85 L243.0 712.00 L244.0 712.15 L245.0 712.29 L246.0 712.44 L247.0 712.58 L248.0 712.72 L249.0 712.86 L250.0 712.99 L251.0 713.13 L252.0 713.26 L253.0 713.39 L254.0 713.52 L255.0 713.64 L256.0 713.77 L257.0 713.89 L258.0 714.00 L259.0 714.12 L260.0 714.23 L261.0 714.34 L262.0 714.44 L263.0 714.54 L264.0 714.64 L265.0 714.74 L266.0 714.83 L267.0 714.91 L268.0 715.00 L269.0 715.08 L270.0 715.16 L271.0 715.23 L272.0 715.30 L273.0 715.36 L274.0 715.42 L275.0 715.47 L276.0 715.52 L277.0 715.57 L278.0 715.61 L279.0 715.65 L280.0 715.68 L281.0 715.70 L282.0 715.73 L283.0 715.74 L284.0 715.75 L285.0 715.76 L286.0 715.76 L287.0 715.76 L288.0 715.76 L289.0 715.75 L290.0 715.73 L291.0 715.72 L292.0 715.69 L293.0 715.67 L294.0 715.64 L295.0 715.61 L296.0 715.57 L297.0 715.53 L298.0 715.49 L299.0 715.45 L300.0 715.40 L301.0 715.35 L302.0 715.30 L303.0 715.24 L304.0 715.19 L305.0 715.13 L306.0 715.07 L307.0 715.00 L308.0 714.94 L309.0 714.87 L310.0 714.80 L311.0 714.73 L312.0 714.66 L313.0 714.59 L314.0 714.51 L315.0 714.44 L316.0 714.36 L317.0 714.29 L318.0 714.21 L319.0 714.13 L320.0 714.05 L321.0 713.97 L322.0 713.89 L323.0 713.81 L324.0 713.73 L325.0 713.66 L326.0 713.58 L327.0 713.50 L328.0 713.42 L329.0 713.34 L330.0 713.27 L331.0 713.19 L332.0 713.11 L333.0 713.04 L334.0 712.97 L335.0 712.90 L336.0 712.83 L337.0 712.76 L338.0 712.69 L339.0 712.63 L340.0 712.56 L341.0 712.50 L342.0 712.44 L343.0 712.39 L344.0 712.33 L345.0 712.28 L346.0 712.23" stroke="#18762c" stroke-width="1.85" fill="none" stroke-linejoin="round" stroke-linecap="round"/>
<path d="M46.0 661.15 L47.0 661.84 L48.0 662.52 L49.0 663.20 L50.0 663.88 L51.0 664.56 L52.0 665.24 L53.0 665.92 L54.0 666.60 L55.0 667.27 L56.0 667.94 L57.0 668.62 L58.0 669.28 L59.0 669.95 L60.0 670.61 L61.0 671.28 L62.0 671.94 L63.0 672.59 L64.0 673.24 L65.0 673.90 L66.0 674.54 L67.0 675.19 L68.0 675.83 L69.0 676.46 L70.0 677.10 L71.0 677.73 L72.0 678.35 L73.0 678.97 L74.0 679.59 L75.0 680.20 L76.0 680.81 L77.0 681.42 L78.0 682.02 L79.0 682.61 L80.0 683.20 L81.0 683.78 L82.0 684.36 L83.0 684.94 L84.0 685.50 L85.0 686.07 L86.0 686.62 L87.0 687.17 L88.0 687.72 L89.0 688.26 L90.0 688.79 L91.0 689.32 L92.0 689.83 L93.0 690.35 L94.0 690.85 L95.0 691.35 L96.0 691.84 L97.0 692.33 L98.0 692.80 L99.0 693.27 L100.0 693.73 L101.0 694.19 L102.0 694.64 L103.0 695.07 L104.0 695.50 L105.0 695.92 L106.0 696.34 L107.0 696.74 L108.0 697.14 L109.0 697.53 L110.0 697.90 L111.0 698.27 L112.0 698.63 L113.0 698.98 L114.0 699.32 L115.0 699.66 L116.0 699.98 L117.0 700.29 L118.0 700.59 L119.0 700.88 L120.0 701.16 L121.0 701.43 L122.0 701.69 L123.0 701.94 L124.0 702.18 L125.0 702.41 L126.0 702.63 L127.0 702.83 L128.0 703.03 L129.0 703.21 L130.0 703.38 L131.0 703.54 L132.0 703.69 L133.0 703.83 L134.0 703.95 L135.0 704.07 L136.0 704.18 L137.0 704.27 L138.0 704.36 L139.0 704.44 L140.0 704.51 L141.0 704.57 L142.0 704.62 L143.0 704.67 L144.0 704.70 L145.0 704.73 L146.0 704.76 L147.0 704.78 L148.0 704.79 L149.0 704.79 L150.0 704.80 L151.0 704.79 L152.0 704.78 L153.0 704.77 L154.0 704.75 L155.0 704.73 L156.0 704.71 L157.0 704.68 L158.0 704.65 L159.0 704.62 L160.0 704.59 L161.0 704.55 L162.0 704.52 L163.0 704.48 L164.0 704.44 L165.0 704.40 L166.0 704.37 L167.0 704.33 L168.0 704.29 L169.0 704.26 L170.0 704.22 L171.0 704.19 L172.0 704.16 L173.0 704.13 L174.0 704.11 L175.0 704.09 L176.0 704.07 L177.0 704.05 L178.0 704.04 L179.0 704.04 L180.0 704.04 L181.0 704.04 L182.0 704.05 L183.0 704.07 L184.0 704.09 L185.0 704.12 L186.0 704.15 L187.0 704.20 L188.0 704.25 L189.0 704.30 L190.0 704.37 L191.0 704.45 L192.0 704.53 L193.0 704.62 L194.0 704.72 L195.0 704.84 L196.0 704.96 L197.0 705.09 L198.0 705.24 L199.0 705.39 L200.0 705.56 L201.0 705.74 L202.0 705.93 L203.0 706.13 L204.0 706.34 L205.0 706.57 L206.0 706.80 L207.0 707.04 L208.0 707.29 L209.0 707.55 L210.0 707.82 L211.0 708.09 L212.0 708.38 L213.0 708.67 L214.0 708.96 L215.0 709.27 L216.0 709.57 L217.0 709.89 L218.0 710.21 L219.0 710.53 L220.0 710.86 L221.0 711.19 L222.0 711.52 L223.0 711.86 L224.0 712.20 L225.0 712.54 L226.0 712.88 L227.0 713.22 L228.0 713.57 L229.0 713.91 L230.0 714.26 L231.0 714.60 L232.0 714.94 L233.0 715.29 L234.0 715.63 L235.0 715.96 L236.0 716.30 L237.0 716.63 L238.0 716.96 L239.0 717.29 L240.0 717.61 L241.0 717.92 L242.0 718.23 L243.0 718.54 L244.0 718.84 L245.0 719.14 L246.0 719.44 L247.0 719.73 L248.0 720.01 L249.0 720.29 L250.0 720.57 L251.0 720.84 L252.0 721.11 L253.0 721.38 L254.0 721.64 L255.0 721.90 L256.0 722.15 L257.0 722.40 L258.0 722.65 L259.0 722.89 L260.0 723.13 L261.0 723.37 L262.0 723.60 L263.0 723.83 L264.0 724.06 L265.0 724.28 L266.0 724.50 L267.0 724.72 L268.0 724.93 L269.0 725.14 L270.0 725.35 L271.0 725.56 L272.0 725.76 L273.0 725.97 L274.0 726.16 L275.0 726.36 L276.0 726.55 L277.0 726.75 L278.0 726.93 L279.0 727.12 L280.0 727.31 L281.0 727.49 L282.0 727.67 L283.0 727.85 L284.0 728.03 L285.0 728.20 L286.0 728.38 L287.0 728.55 L288.0 728.72 L289.0 728.89 L290.0 729.06 L291.0 729.23 L292.0 729.39 L293.0 729.56 L294.0 729.72 L295.0 729.89 L296.0 730.05 L297.0 730.21 L298.0 730.38 L299.0 730.54 L300.0 730.70 L301.0 730.86 L302.0 731.02 L303.0 731.18 L304.0 731.35 L305.0 731.51 L306.0 731.67 L307.0 731.83 L308.0 731.99 L309.0 732.16 L310.0 732.32 L311.0 732.49 L312.0 732.65 L313.0 732.82 L314.0 732.99 L315.0 733.16 L316.0 733.33 L317.0 733.50 L318.0 733.67 L319.0 733.85 L320.0 734.02 L321.0 734.20 L322.0 734.38 L323.0 734.56 L324.0 734.74 L325.0 734.93 L326.0 735.12 L327.0 735.31 L328.0 735.50 L329.0 735.70 L330.0 735.89 L331.0 736.09 L332.0 736.30 L333.0 736.50 L334.0 736.71 L335.0 736.92 L336.0 737.14 L337.0 737.35 L338.0 737.58 L339.0 737.80 L340.0 738.03 L341.0 738.26 L342.0 738.50 L343.0 738.74 L344.0 738.98 L345.0 739.23 L346.0 739.48" stroke="#1c1c4e" stroke-width="1.85" fill="none" stroke-linejoin="round" stroke-linecap="round"/>
<rect x="36" y="580.00" width="320.4" height="234.00" fill="none" stroke="#4a4a4a" stroke-width="1.3"/>
<line x1="36" y1="580.10" x2="40.5" y2="580.10" stroke="#4a4a4a" stroke-width="1.3"/>
<text x="30.8" y="583.60" class="tl" text-anchor="end">1.2</text>
<line x1="36" y1="622.70" x2="40.5" y2="622.70" stroke="#4a4a4a" stroke-width="1.3"/>
<text x="30.8" y="626.20" class="tl" text-anchor="end">1.0</text>
<line x1="36" y1="665.30" x2="40.5" y2="665.30" stroke="#4a4a4a" stroke-width="1.3"/>
<text x="30.8" y="668.80" class="tl" text-anchor="end">0.8</text>
<line x1="36" y1="707.90" x2="40.5" y2="707.90" stroke="#4a4a4a" stroke-width="1.3"/>
<text x="30.8" y="711.40" class="tl" text-anchor="end">0.6</text>
<line x1="36" y1="750.50" x2="40.5" y2="750.50" stroke="#4a4a4a" stroke-width="1.3"/>
<text x="30.8" y="754.00" class="tl" text-anchor="end">0.4</text>
<line x1="36" y1="793.10" x2="40.5" y2="793.10" stroke="#4a4a4a" stroke-width="1.3"/>
<text x="30.8" y="796.60" class="tl" text-anchor="end">0.2</text>
<line x1="46.00" y1="814.00" x2="46.00" y2="809.50" stroke="#4a4a4a" stroke-width="1.3"/>
<text x="46.00" y="827.30" class="tl" text-anchor="middle">400</text>
<line x1="96.00" y1="814.00" x2="96.00" y2="809.50" stroke="#4a4a4a" stroke-width="1.3"/>
<text x="96.00" y="827.30" class="tl" text-anchor="middle">450</text>
<line x1="146.00" y1="814.00" x2="146.00" y2="809.50" stroke="#4a4a4a" stroke-width="1.3"/>
<text x="146.00" y="827.30" class="tl" text-anchor="middle">500</text>
<line x1="196.00" y1="814.00" x2="196.00" y2="809.50" stroke="#4a4a4a" stroke-width="1.3"/>
<text x="196.00" y="827.30" class="tl" text-anchor="middle">550</text>
<line x1="246.00" y1="814.00" x2="246.00" y2="809.50" stroke="#4a4a4a" stroke-width="1.3"/>
<text x="246.00" y="827.30" class="tl" text-anchor="middle">600</text>
<line x1="296.00" y1="814.00" x2="296.00" y2="809.50" stroke="#4a4a4a" stroke-width="1.3"/>
<text x="296.00" y="827.30" class="tl" text-anchor="middle">650</text>
<line x1="346.00" y1="814.00" x2="346.00" y2="809.50" stroke="#4a4a4a" stroke-width="1.3"/>
<text x="346.00" y="827.30" class="tl" text-anchor="middle">700</text>
<text x="196" y="844.20" class="ax" text-anchor="middle">Wavelength (nm)</text>
<text transform="translate(11.2 697.00) rotate(-90)" class="ax" text-anchor="middle">Absorbance</text>
<text x="43.2" y="595.90" class="pl">c</text>
<line x1="283.40" y1="592.00" x2="310.60" y2="592.00" stroke="#0c0c0c" stroke-width="2.0"/>
<text x="314.50" y="596.20" class="lg">pH=2</text>
<line x1="283.40" y1="607.60" x2="310.60" y2="607.60" stroke="#c61e28" stroke-width="2.0"/>
<text x="314.50" y="611.80" class="lg">pH=4</text>
<line x1="283.40" y1="623.20" x2="310.60" y2="623.20" stroke="#1c4492" stroke-width="2.0"/>
<text x="314.50" y="627.40" class="lg">pH=6</text>
<line x1="283.40" y1="638.80" x2="310.60" y2="638.80" stroke="#a84a9c" stroke-width="2.0"/>
<text x="314.50" y="643.00" class="lg">pH=8</text>
<line x1="283.40" y1="654.50" x2="310.60" y2="654.50" stroke="#18762c" stroke-width="2.0"/>
<text x="314.50" y="658.70" class="lg">pH=10</text>
<line x1="283.40" y1="670.10" x2="310.60" y2="670.10" stroke="#1c1c4e" stroke-width="2.0"/>
<text x="314.50" y="674.30" class="lg">pH=12</text>
</svg>
</body></html>
